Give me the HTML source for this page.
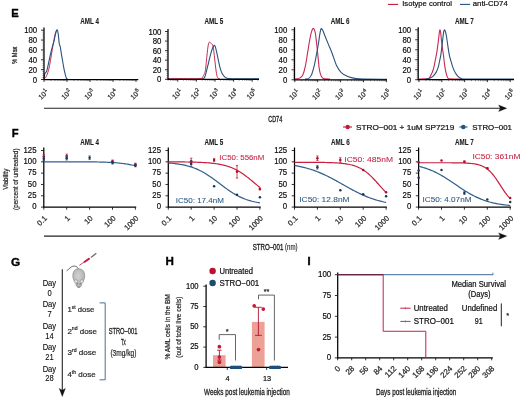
<!DOCTYPE html>
<html><head><meta charset="utf-8"><style>
html,body{margin:0;padding:0;background:#fff;}
svg{display:block;will-change:transform;}
text{font-family:"Liberation Sans", sans-serif;}
</style></head><body>
<svg width="520" height="397" viewBox="0 0 520 397" shape-rendering="geometricPrecision">
<rect width="520" height="397" fill="#fff"/>
<text x="11.3" y="16.7" font-size="11.2" font-weight="700" fill="#000" stroke="#000" stroke-width="0.35">E</text>
<text x="11.8" y="136.9" font-size="11.2" font-weight="700" fill="#000" stroke="#000" stroke-width="0.35">F</text>
<text x="11.1" y="265.6" font-size="11.8" font-weight="700" fill="#000" stroke="#000" stroke-width="0.35">G</text>
<text x="165.6" y="265.1" font-size="11.6" font-weight="700" fill="#000" stroke="#000" stroke-width="0.35">H</text>
<text x="307.5" y="265.2" font-size="11" font-weight="700" fill="#000" stroke="#000" stroke-width="0.5">I</text>
<line x1="388" y1="4.4" x2="398.2" y2="4.4" stroke="#c4183c" stroke-width="1.1"/>
<text x="402.2" y="6.4" font-size="8" textLength="49.8" lengthAdjust="spacingAndGlyphs" stroke="#2a2a2a" stroke-width="0.22">Isotype control</text>
<line x1="460" y1="4.4" x2="470" y2="4.4" stroke="#24527f" stroke-width="1.1"/>
<text x="472.8" y="6.4" font-size="8" textLength="34.9" lengthAdjust="spacingAndGlyphs" stroke="#2a2a2a" stroke-width="0.22">anti-CD74</text>
<text transform="translate(17.3 55.2) rotate(-90)" font-size="7.4" text-anchor="middle" fill="#222" textLength="17" lengthAdjust="spacingAndGlyphs" stroke="#222" stroke-width="0.25">% Max</text>
<g transform="translate(0 -0.6)">
<path d="M44 79.3 C44.33 79 45.25 78.88 46 77.5 C46.75 76.12 47.75 73.75 48.5 71 C49.25 68.25 49.87 64.5 50.5 61 C51.13 57.5 51.72 53.5 52.3 50 C52.88 46.5 53.47 42.75 54 40 C54.53 37.25 55.03 35 55.5 33.5 C55.97 32 56.58 31.42 56.8 31" stroke="#c62a55" stroke-width="1" fill="none" stroke-linejoin="round"/>
<path d="M44 79.3 C44.13 78.5 44.53 75.5 44.8 74.5 C45.07 73.5 45.27 73.8 45.6 73.3 C45.93 72.8 46.35 72.88 46.8 71.5 C47.25 70.12 47.77 67.42 48.3 65 C48.83 62.58 49.47 59.42 50 57 C50.53 54.58 51.05 52.3 51.5 50.5 C51.95 48.7 52.28 47.62 52.7 46.2 C53.12 44.78 53.57 43.78 54 42 C54.43 40.22 54.87 37.37 55.3 35.5 C55.73 33.63 56.22 31.52 56.6 30.8 C56.98 30.08 57.3 30.33 57.6 31.2 C57.9 32.07 58.12 33.77 58.4 36 C58.68 38.23 59 42.77 59.3 44.6 C59.6 46.43 59.87 45.43 60.2 47 C60.53 48.57 60.92 51.67 61.3 54 C61.68 56.33 62.05 58.42 62.5 61 C62.95 63.58 63.5 67 64 69.5 C64.5 72 65.07 74.37 65.5 76 C65.93 77.63 66.18 78.7 66.6 79.3 C67.02 79.9 67.77 79.55 68 79.6" stroke="#2a527c" stroke-width="1.1" fill="none" stroke-linejoin="round"/>
<path d="M168 79.2 C173.33 79.2 194.37 79.27 200 79.2 C205.63 79.14 201.13 79.49 201.8 78.81 C202.47 78.13 203.38 76.55 204 75.12 C204.62 73.69 204.95 73.99 205.5 70.26 C206.05 66.53 206.8 57.06 207.3 52.76 C207.8 48.47 208.13 46.15 208.5 44.5 C208.87 42.85 209.08 42.93 209.5 42.85 C209.92 42.77 210.5 43.61 211 44.02 C211.5 44.42 212.05 44.15 212.5 45.28 C212.95 46.41 213.28 47.95 213.7 50.82 C214.12 53.69 214.53 58.6 215 62.48 C215.47 66.37 216 71.43 216.5 74.15 C217 76.87 217.42 77.97 218 78.81 C218.58 79.66 219.67 79.14 220 79.2" stroke="#c62a55" stroke-width="1" fill="none" stroke-linejoin="round"/>
<path d="M203 79.2 C203.3 78.93 204.2 78.88 204.8 77.55 C205.4 76.22 205.98 73.58 206.6 71.23 C207.22 68.88 207.8 66.28 208.5 63.46 C209.2 60.64 210.1 56.83 210.8 54.32 C211.5 51.81 212.12 49.78 212.7 48.39 C213.28 47 213.83 46.04 214.3 45.96 C214.77 45.88 215.05 46.51 215.5 47.9 C215.95 49.3 216.5 52.05 217 54.32 C217.5 56.59 218.03 59.31 218.5 61.51 C218.97 63.72 219.3 65.68 219.8 67.54 C220.3 69.4 220.92 71.3 221.5 72.69 C222.08 74.08 222.67 75.02 223.3 75.9 C223.93 76.77 224.62 77.44 225.3 77.94 C225.98 78.44 226.28 78.68 227.4 78.91 C228.52 79.14 226.73 79.24 232 79.3 C237.27 79.36 254.5 79.3 259 79.3" stroke="#2a527c" stroke-width="1.1" fill="none" stroke-linejoin="round"/>
<path d="M294.5 79.6 C294.92 79.58 296.08 79.68 297 79.5 C297.92 79.32 299.03 79.13 300 78.5 C300.97 77.87 301.92 77.62 302.8 75.7 C303.68 73.78 304.48 70.82 305.3 67 C306.12 63.18 306.92 57.47 307.7 52.8 C308.48 48.13 309.32 42.55 310 39 C310.68 35.45 311.2 33.17 311.8 31.5 C312.4 29.83 313.03 28.75 313.6 29 C314.17 29.25 314.68 30.4 315.2 33 C315.72 35.6 316.23 40.6 316.7 44.6 C317.17 48.6 317.58 52.93 318 57 C318.42 61.07 318.75 65.92 319.2 69 C319.65 72.08 320.15 73.92 320.7 75.5 C321.25 77.08 321.87 77.83 322.5 78.5 C323.13 79.17 323.25 79.3 324.5 79.5 C325.75 79.7 329.08 79.67 330 79.7" stroke="#c62a55" stroke-width="1.1" fill="none" stroke-linejoin="round"/>
<path d="M305 79.7 C305.58 79.62 307.42 79.9 308.5 79.2 C309.58 78.5 310.53 77.7 311.5 75.5 C312.47 73.3 313.47 69.42 314.3 66 C315.13 62.58 315.82 58.57 316.5 55 C317.18 51.43 317.85 47.93 318.4 44.6 C318.95 41.27 319.35 37.55 319.8 35 C320.25 32.45 320.6 29.97 321.1 29.3 C321.6 28.63 322.17 29.82 322.8 31 C323.43 32.18 324 34.15 324.9 36.4 C325.8 38.65 326.97 41.52 328.2 44.5 C329.43 47.48 330.93 50.75 332.3 54.3 C333.67 57.85 334.9 62.65 336.4 65.8 C337.9 68.95 339.4 71.3 341.3 73.2 C343.2 75.1 345.35 76.2 347.8 77.2 C350.25 78.2 353.13 78.78 356 79.2 C358.87 79.62 359.83 79.6 365 79.7 C370.17 79.8 383.33 79.78 387 79.8" stroke="#2a527c" stroke-width="1.1" fill="none" stroke-linejoin="round"/>
<path d="M418.5 79.6 C419.42 79.58 422.33 79.57 424 79.5 C425.67 79.43 427.5 79.53 428.5 79.2 C429.5 78.87 429.62 78.07 430 77.5 C430.38 76.93 430.47 76.47 430.8 75.8 C431.13 75.13 431.62 74.37 432 73.5 C432.38 72.63 432.72 71.85 433.1 70.6 C433.48 69.35 433.95 67.57 434.3 66 C434.65 64.43 434.78 63.37 435.2 61.2 C435.62 59.03 436.28 56.2 436.8 53 C437.32 49.8 437.82 45.67 438.3 42 C438.78 38.33 439.32 32.5 439.7 31 C440.08 29.5 440.3 31.33 440.6 33 C440.9 34.67 441.17 38.17 441.5 41 C441.83 43.83 442.27 47.5 442.6 50 C442.93 52.5 443.17 53.43 443.5 56 C443.83 58.57 444.17 62.45 444.6 65.4 C445.03 68.35 445.58 71.53 446.1 73.7 C446.62 75.87 447.18 77.45 447.7 78.4 C448.22 79.35 447.98 79.2 449.2 79.4 C450.42 79.6 452.87 79.57 455 79.6 C457.13 79.63 460.83 79.6 462 79.6" stroke="#c62a55" stroke-width="1.1" fill="none" stroke-linejoin="round"/>
<path d="M426 79.6 C426.42 79.53 427.4 79.58 428.5 79.2 C429.6 78.82 431.32 78.38 432.6 77.3 C433.88 76.22 435.25 74.33 436.2 72.7 C437.15 71.07 437.68 69.58 438.3 67.5 C438.92 65.42 439.47 62.28 439.9 60.2 C440.33 58.12 440.47 58.03 440.9 55 C441.33 51.97 442.07 45.58 442.5 42 C442.93 38.42 443.2 35.4 443.5 33.5 C443.8 31.6 444 30.88 444.3 30.6 C444.6 30.32 444.97 30.9 445.3 31.8 C445.63 32.7 445.93 33.97 446.3 36 C446.67 38.03 447.02 40.83 447.5 44 C447.98 47.17 448.65 52.13 449.2 55 C449.75 57.87 450.1 58.78 450.8 61.2 C451.5 63.62 452.45 67.17 453.4 69.5 C454.35 71.83 455.47 73.72 456.5 75.2 C457.53 76.68 458.57 77.67 459.6 78.4 C460.63 79.13 460.97 79.38 462.7 79.6 C464.43 79.82 461.45 79.68 470 79.7 C478.55 79.72 506.67 79.7 514 79.7" stroke="#2a527c" stroke-width="1.1" fill="none" stroke-linejoin="round"/>
</g>
<line x1="44" y1="27.6" x2="44" y2="80" stroke="#000" stroke-width="1.25"/>
<line x1="43.5" y1="79.5" x2="138.3" y2="79.5" stroke="#000" stroke-width="1.25"/>
<line x1="41" y1="79.5" x2="44" y2="79.5" stroke="#1a1a1a" stroke-width="0.9"/>
<text x="37.2" y="82.6" font-size="8.42" text-anchor="end" textLength="4.34" lengthAdjust="spacingAndGlyphs" stroke="#2a2a2a" stroke-width="0.22">0</text>
<line x1="41" y1="69.64" x2="44" y2="69.64" stroke="#1a1a1a" stroke-width="0.9"/>
<text x="37.2" y="72.74" font-size="8.42" text-anchor="end" textLength="8.68" lengthAdjust="spacingAndGlyphs" stroke="#2a2a2a" stroke-width="0.22">20</text>
<line x1="41" y1="59.78" x2="44" y2="59.78" stroke="#1a1a1a" stroke-width="0.9"/>
<text x="37.2" y="62.88" font-size="8.42" text-anchor="end" textLength="8.68" lengthAdjust="spacingAndGlyphs" stroke="#2a2a2a" stroke-width="0.22">40</text>
<line x1="41" y1="49.92" x2="44" y2="49.92" stroke="#1a1a1a" stroke-width="0.9"/>
<text x="37.2" y="53.02" font-size="8.42" text-anchor="end" textLength="8.68" lengthAdjust="spacingAndGlyphs" stroke="#2a2a2a" stroke-width="0.22">60</text>
<line x1="41" y1="40.06" x2="44" y2="40.06" stroke="#1a1a1a" stroke-width="0.9"/>
<text x="37.2" y="43.16" font-size="8.42" text-anchor="end" textLength="8.68" lengthAdjust="spacingAndGlyphs" stroke="#2a2a2a" stroke-width="0.22">80</text>
<line x1="41" y1="30.2" x2="44" y2="30.2" stroke="#1a1a1a" stroke-width="0.9"/>
<text x="37.2" y="33.3" font-size="8.42" text-anchor="end" textLength="13.01" lengthAdjust="spacingAndGlyphs" stroke="#2a2a2a" stroke-width="0.22">100</text>
<line x1="42.4" y1="77.53" x2="44" y2="77.53" stroke="#1a1a1a" stroke-width="0.4"/>
<line x1="42.4" y1="75.56" x2="44" y2="75.56" stroke="#1a1a1a" stroke-width="0.4"/>
<line x1="42.4" y1="73.58" x2="44" y2="73.58" stroke="#1a1a1a" stroke-width="0.4"/>
<line x1="42.4" y1="71.61" x2="44" y2="71.61" stroke="#1a1a1a" stroke-width="0.4"/>
<line x1="42.4" y1="67.67" x2="44" y2="67.67" stroke="#1a1a1a" stroke-width="0.4"/>
<line x1="42.4" y1="65.7" x2="44" y2="65.7" stroke="#1a1a1a" stroke-width="0.4"/>
<line x1="42.4" y1="63.72" x2="44" y2="63.72" stroke="#1a1a1a" stroke-width="0.4"/>
<line x1="42.4" y1="61.75" x2="44" y2="61.75" stroke="#1a1a1a" stroke-width="0.4"/>
<line x1="42.4" y1="57.81" x2="44" y2="57.81" stroke="#1a1a1a" stroke-width="0.4"/>
<line x1="42.4" y1="55.84" x2="44" y2="55.84" stroke="#1a1a1a" stroke-width="0.4"/>
<line x1="42.4" y1="53.86" x2="44" y2="53.86" stroke="#1a1a1a" stroke-width="0.4"/>
<line x1="42.4" y1="51.89" x2="44" y2="51.89" stroke="#1a1a1a" stroke-width="0.4"/>
<line x1="42.4" y1="47.95" x2="44" y2="47.95" stroke="#1a1a1a" stroke-width="0.4"/>
<line x1="42.4" y1="45.98" x2="44" y2="45.98" stroke="#1a1a1a" stroke-width="0.4"/>
<line x1="42.4" y1="44" x2="44" y2="44" stroke="#1a1a1a" stroke-width="0.4"/>
<line x1="42.4" y1="42.03" x2="44" y2="42.03" stroke="#1a1a1a" stroke-width="0.4"/>
<line x1="42.4" y1="38.09" x2="44" y2="38.09" stroke="#1a1a1a" stroke-width="0.4"/>
<line x1="42.4" y1="36.12" x2="44" y2="36.12" stroke="#1a1a1a" stroke-width="0.4"/>
<line x1="42.4" y1="34.14" x2="44" y2="34.14" stroke="#1a1a1a" stroke-width="0.4"/>
<line x1="42.4" y1="32.17" x2="44" y2="32.17" stroke="#1a1a1a" stroke-width="0.4"/>
<line x1="44" y1="79.5" x2="44" y2="81.9" stroke="#1a1a1a" stroke-width="0.9"/>
<line x1="50.92" y1="79.5" x2="50.92" y2="81" stroke="#1a1a1a" stroke-width="0.45"/>
<line x1="54.97" y1="79.5" x2="54.97" y2="81" stroke="#1a1a1a" stroke-width="0.45"/>
<line x1="57.85" y1="79.5" x2="57.85" y2="81" stroke="#1a1a1a" stroke-width="0.45"/>
<line x1="60.08" y1="79.5" x2="60.08" y2="81" stroke="#1a1a1a" stroke-width="0.45"/>
<line x1="61.9" y1="79.5" x2="61.9" y2="81" stroke="#1a1a1a" stroke-width="0.45"/>
<line x1="63.44" y1="79.5" x2="63.44" y2="81" stroke="#1a1a1a" stroke-width="0.45"/>
<line x1="64.77" y1="79.5" x2="64.77" y2="81" stroke="#1a1a1a" stroke-width="0.45"/>
<line x1="65.95" y1="79.5" x2="65.95" y2="81" stroke="#1a1a1a" stroke-width="0.45"/>
<line x1="67" y1="79.5" x2="67" y2="81.9" stroke="#1a1a1a" stroke-width="0.9"/>
<line x1="73.92" y1="79.5" x2="73.92" y2="81" stroke="#1a1a1a" stroke-width="0.45"/>
<line x1="77.97" y1="79.5" x2="77.97" y2="81" stroke="#1a1a1a" stroke-width="0.45"/>
<line x1="80.85" y1="79.5" x2="80.85" y2="81" stroke="#1a1a1a" stroke-width="0.45"/>
<line x1="83.08" y1="79.5" x2="83.08" y2="81" stroke="#1a1a1a" stroke-width="0.45"/>
<line x1="84.9" y1="79.5" x2="84.9" y2="81" stroke="#1a1a1a" stroke-width="0.45"/>
<line x1="86.44" y1="79.5" x2="86.44" y2="81" stroke="#1a1a1a" stroke-width="0.45"/>
<line x1="87.77" y1="79.5" x2="87.77" y2="81" stroke="#1a1a1a" stroke-width="0.45"/>
<line x1="88.95" y1="79.5" x2="88.95" y2="81" stroke="#1a1a1a" stroke-width="0.45"/>
<line x1="90" y1="79.5" x2="90" y2="81.9" stroke="#1a1a1a" stroke-width="0.9"/>
<line x1="96.92" y1="79.5" x2="96.92" y2="81" stroke="#1a1a1a" stroke-width="0.45"/>
<line x1="100.97" y1="79.5" x2="100.97" y2="81" stroke="#1a1a1a" stroke-width="0.45"/>
<line x1="103.85" y1="79.5" x2="103.85" y2="81" stroke="#1a1a1a" stroke-width="0.45"/>
<line x1="106.08" y1="79.5" x2="106.08" y2="81" stroke="#1a1a1a" stroke-width="0.45"/>
<line x1="107.9" y1="79.5" x2="107.9" y2="81" stroke="#1a1a1a" stroke-width="0.45"/>
<line x1="109.44" y1="79.5" x2="109.44" y2="81" stroke="#1a1a1a" stroke-width="0.45"/>
<line x1="110.77" y1="79.5" x2="110.77" y2="81" stroke="#1a1a1a" stroke-width="0.45"/>
<line x1="111.95" y1="79.5" x2="111.95" y2="81" stroke="#1a1a1a" stroke-width="0.45"/>
<line x1="113" y1="79.5" x2="113" y2="81.9" stroke="#1a1a1a" stroke-width="0.9"/>
<line x1="119.92" y1="79.5" x2="119.92" y2="81" stroke="#1a1a1a" stroke-width="0.45"/>
<line x1="123.97" y1="79.5" x2="123.97" y2="81" stroke="#1a1a1a" stroke-width="0.45"/>
<line x1="126.85" y1="79.5" x2="126.85" y2="81" stroke="#1a1a1a" stroke-width="0.45"/>
<line x1="129.08" y1="79.5" x2="129.08" y2="81" stroke="#1a1a1a" stroke-width="0.45"/>
<line x1="130.9" y1="79.5" x2="130.9" y2="81" stroke="#1a1a1a" stroke-width="0.45"/>
<line x1="132.44" y1="79.5" x2="132.44" y2="81" stroke="#1a1a1a" stroke-width="0.45"/>
<line x1="133.77" y1="79.5" x2="133.77" y2="81" stroke="#1a1a1a" stroke-width="0.45"/>
<line x1="134.95" y1="79.5" x2="134.95" y2="81" stroke="#1a1a1a" stroke-width="0.45"/>
<line x1="136" y1="79.5" x2="136" y2="81.9" stroke="#1a1a1a" stroke-width="0.9"/>
<g transform="translate(49 92.3) rotate(-45)"><text x="0" y="0" font-size="7" text-anchor="end" fill="#2a2a2a" stroke="#2a2a2a" stroke-width="0.22">10<tspan font-size="5.18" dy="-2.94" dx="0.2">1</tspan></text></g>
<g transform="translate(72 92.3) rotate(-45)"><text x="0" y="0" font-size="7" text-anchor="end" fill="#2a2a2a" stroke="#2a2a2a" stroke-width="0.22">10<tspan font-size="5.18" dy="-2.94" dx="0.2">2</tspan></text></g>
<g transform="translate(95 92.3) rotate(-45)"><text x="0" y="0" font-size="7" text-anchor="end" fill="#2a2a2a" stroke="#2a2a2a" stroke-width="0.22">10<tspan font-size="5.18" dy="-2.94" dx="0.2">3</tspan></text></g>
<g transform="translate(118 92.3) rotate(-45)"><text x="0" y="0" font-size="7" text-anchor="end" fill="#2a2a2a" stroke="#2a2a2a" stroke-width="0.22">10<tspan font-size="5.18" dy="-2.94" dx="0.2">4</tspan></text></g>
<g transform="translate(141 92.3) rotate(-45)"><text x="0" y="0" font-size="7" text-anchor="end" fill="#2a2a2a" stroke="#2a2a2a" stroke-width="0.22">10<tspan font-size="5.18" dy="-2.94" dx="0.2">5</tspan></text></g>
<text x="80.2" y="24.1" font-size="8.6" font-weight="700" fill="#1a1a1a" textLength="18.7" lengthAdjust="spacingAndGlyphs" stroke="#1a1a1a" stroke-width="0.12">AML 4</text>
<line x1="168" y1="28.9" x2="168" y2="79.8" stroke="#000" stroke-width="1.25"/>
<line x1="167.5" y1="79.3" x2="259" y2="79.3" stroke="#000" stroke-width="1.25"/>
<line x1="165" y1="79.3" x2="168" y2="79.3" stroke="#1a1a1a" stroke-width="0.9"/>
<text x="161.4" y="82.4" font-size="8.42" text-anchor="end" textLength="4.34" lengthAdjust="spacingAndGlyphs" stroke="#2a2a2a" stroke-width="0.22">0</text>
<line x1="165" y1="69.74" x2="168" y2="69.74" stroke="#1a1a1a" stroke-width="0.9"/>
<text x="161.4" y="72.84" font-size="8.42" text-anchor="end" textLength="8.68" lengthAdjust="spacingAndGlyphs" stroke="#2a2a2a" stroke-width="0.22">20</text>
<line x1="165" y1="60.18" x2="168" y2="60.18" stroke="#1a1a1a" stroke-width="0.9"/>
<text x="161.4" y="63.28" font-size="8.42" text-anchor="end" textLength="8.68" lengthAdjust="spacingAndGlyphs" stroke="#2a2a2a" stroke-width="0.22">40</text>
<line x1="165" y1="50.62" x2="168" y2="50.62" stroke="#1a1a1a" stroke-width="0.9"/>
<text x="161.4" y="53.72" font-size="8.42" text-anchor="end" textLength="8.68" lengthAdjust="spacingAndGlyphs" stroke="#2a2a2a" stroke-width="0.22">60</text>
<line x1="165" y1="41.06" x2="168" y2="41.06" stroke="#1a1a1a" stroke-width="0.9"/>
<text x="161.4" y="44.16" font-size="8.42" text-anchor="end" textLength="8.68" lengthAdjust="spacingAndGlyphs" stroke="#2a2a2a" stroke-width="0.22">80</text>
<line x1="165" y1="31.5" x2="168" y2="31.5" stroke="#1a1a1a" stroke-width="0.9"/>
<text x="161.4" y="34.6" font-size="8.42" text-anchor="end" textLength="13.01" lengthAdjust="spacingAndGlyphs" stroke="#2a2a2a" stroke-width="0.22">100</text>
<line x1="166.4" y1="77.39" x2="168" y2="77.39" stroke="#1a1a1a" stroke-width="0.4"/>
<line x1="166.4" y1="75.48" x2="168" y2="75.48" stroke="#1a1a1a" stroke-width="0.4"/>
<line x1="166.4" y1="73.56" x2="168" y2="73.56" stroke="#1a1a1a" stroke-width="0.4"/>
<line x1="166.4" y1="71.65" x2="168" y2="71.65" stroke="#1a1a1a" stroke-width="0.4"/>
<line x1="166.4" y1="67.83" x2="168" y2="67.83" stroke="#1a1a1a" stroke-width="0.4"/>
<line x1="166.4" y1="65.92" x2="168" y2="65.92" stroke="#1a1a1a" stroke-width="0.4"/>
<line x1="166.4" y1="64" x2="168" y2="64" stroke="#1a1a1a" stroke-width="0.4"/>
<line x1="166.4" y1="62.09" x2="168" y2="62.09" stroke="#1a1a1a" stroke-width="0.4"/>
<line x1="166.4" y1="58.27" x2="168" y2="58.27" stroke="#1a1a1a" stroke-width="0.4"/>
<line x1="166.4" y1="56.36" x2="168" y2="56.36" stroke="#1a1a1a" stroke-width="0.4"/>
<line x1="166.4" y1="54.44" x2="168" y2="54.44" stroke="#1a1a1a" stroke-width="0.4"/>
<line x1="166.4" y1="52.53" x2="168" y2="52.53" stroke="#1a1a1a" stroke-width="0.4"/>
<line x1="166.4" y1="48.71" x2="168" y2="48.71" stroke="#1a1a1a" stroke-width="0.4"/>
<line x1="166.4" y1="46.8" x2="168" y2="46.8" stroke="#1a1a1a" stroke-width="0.4"/>
<line x1="166.4" y1="44.88" x2="168" y2="44.88" stroke="#1a1a1a" stroke-width="0.4"/>
<line x1="166.4" y1="42.97" x2="168" y2="42.97" stroke="#1a1a1a" stroke-width="0.4"/>
<line x1="166.4" y1="39.15" x2="168" y2="39.15" stroke="#1a1a1a" stroke-width="0.4"/>
<line x1="166.4" y1="37.24" x2="168" y2="37.24" stroke="#1a1a1a" stroke-width="0.4"/>
<line x1="166.4" y1="35.32" x2="168" y2="35.32" stroke="#1a1a1a" stroke-width="0.4"/>
<line x1="166.4" y1="33.41" x2="168" y2="33.41" stroke="#1a1a1a" stroke-width="0.4"/>
<line x1="177.8" y1="79.3" x2="177.8" y2="81.7" stroke="#1a1a1a" stroke-width="0.9"/>
<line x1="183.4" y1="79.3" x2="183.4" y2="80.8" stroke="#1a1a1a" stroke-width="0.45"/>
<line x1="186.67" y1="79.3" x2="186.67" y2="80.8" stroke="#1a1a1a" stroke-width="0.45"/>
<line x1="189" y1="79.3" x2="189" y2="80.8" stroke="#1a1a1a" stroke-width="0.45"/>
<line x1="190.8" y1="79.3" x2="190.8" y2="80.8" stroke="#1a1a1a" stroke-width="0.45"/>
<line x1="192.27" y1="79.3" x2="192.27" y2="80.8" stroke="#1a1a1a" stroke-width="0.45"/>
<line x1="193.52" y1="79.3" x2="193.52" y2="80.8" stroke="#1a1a1a" stroke-width="0.45"/>
<line x1="194.6" y1="79.3" x2="194.6" y2="80.8" stroke="#1a1a1a" stroke-width="0.45"/>
<line x1="195.55" y1="79.3" x2="195.55" y2="80.8" stroke="#1a1a1a" stroke-width="0.45"/>
<line x1="196.4" y1="79.3" x2="196.4" y2="81.7" stroke="#1a1a1a" stroke-width="0.9"/>
<line x1="202" y1="79.3" x2="202" y2="80.8" stroke="#1a1a1a" stroke-width="0.45"/>
<line x1="205.27" y1="79.3" x2="205.27" y2="80.8" stroke="#1a1a1a" stroke-width="0.45"/>
<line x1="207.6" y1="79.3" x2="207.6" y2="80.8" stroke="#1a1a1a" stroke-width="0.45"/>
<line x1="209.4" y1="79.3" x2="209.4" y2="80.8" stroke="#1a1a1a" stroke-width="0.45"/>
<line x1="210.87" y1="79.3" x2="210.87" y2="80.8" stroke="#1a1a1a" stroke-width="0.45"/>
<line x1="212.12" y1="79.3" x2="212.12" y2="80.8" stroke="#1a1a1a" stroke-width="0.45"/>
<line x1="213.2" y1="79.3" x2="213.2" y2="80.8" stroke="#1a1a1a" stroke-width="0.45"/>
<line x1="214.15" y1="79.3" x2="214.15" y2="80.8" stroke="#1a1a1a" stroke-width="0.45"/>
<line x1="215" y1="79.3" x2="215" y2="81.7" stroke="#1a1a1a" stroke-width="0.9"/>
<line x1="220.6" y1="79.3" x2="220.6" y2="80.8" stroke="#1a1a1a" stroke-width="0.45"/>
<line x1="223.87" y1="79.3" x2="223.87" y2="80.8" stroke="#1a1a1a" stroke-width="0.45"/>
<line x1="226.2" y1="79.3" x2="226.2" y2="80.8" stroke="#1a1a1a" stroke-width="0.45"/>
<line x1="228" y1="79.3" x2="228" y2="80.8" stroke="#1a1a1a" stroke-width="0.45"/>
<line x1="229.47" y1="79.3" x2="229.47" y2="80.8" stroke="#1a1a1a" stroke-width="0.45"/>
<line x1="230.72" y1="79.3" x2="230.72" y2="80.8" stroke="#1a1a1a" stroke-width="0.45"/>
<line x1="231.8" y1="79.3" x2="231.8" y2="80.8" stroke="#1a1a1a" stroke-width="0.45"/>
<line x1="232.75" y1="79.3" x2="232.75" y2="80.8" stroke="#1a1a1a" stroke-width="0.45"/>
<line x1="233.6" y1="79.3" x2="233.6" y2="81.7" stroke="#1a1a1a" stroke-width="0.9"/>
<line x1="239.2" y1="79.3" x2="239.2" y2="80.8" stroke="#1a1a1a" stroke-width="0.45"/>
<line x1="242.47" y1="79.3" x2="242.47" y2="80.8" stroke="#1a1a1a" stroke-width="0.45"/>
<line x1="244.8" y1="79.3" x2="244.8" y2="80.8" stroke="#1a1a1a" stroke-width="0.45"/>
<line x1="246.6" y1="79.3" x2="246.6" y2="80.8" stroke="#1a1a1a" stroke-width="0.45"/>
<line x1="248.07" y1="79.3" x2="248.07" y2="80.8" stroke="#1a1a1a" stroke-width="0.45"/>
<line x1="249.32" y1="79.3" x2="249.32" y2="80.8" stroke="#1a1a1a" stroke-width="0.45"/>
<line x1="250.4" y1="79.3" x2="250.4" y2="80.8" stroke="#1a1a1a" stroke-width="0.45"/>
<line x1="251.35" y1="79.3" x2="251.35" y2="80.8" stroke="#1a1a1a" stroke-width="0.45"/>
<line x1="252.2" y1="79.3" x2="252.2" y2="81.7" stroke="#1a1a1a" stroke-width="0.9"/>
<line x1="257.8" y1="79.3" x2="257.8" y2="80.8" stroke="#1a1a1a" stroke-width="0.45"/>
<line x1="168.07" y1="79.3" x2="168.07" y2="80.8" stroke="#1a1a1a" stroke-width="0.45"/>
<line x1="170.4" y1="79.3" x2="170.4" y2="80.8" stroke="#1a1a1a" stroke-width="0.45"/>
<line x1="172.2" y1="79.3" x2="172.2" y2="80.8" stroke="#1a1a1a" stroke-width="0.45"/>
<line x1="173.67" y1="79.3" x2="173.67" y2="80.8" stroke="#1a1a1a" stroke-width="0.45"/>
<line x1="174.92" y1="79.3" x2="174.92" y2="80.8" stroke="#1a1a1a" stroke-width="0.45"/>
<line x1="176" y1="79.3" x2="176" y2="80.8" stroke="#1a1a1a" stroke-width="0.45"/>
<line x1="176.95" y1="79.3" x2="176.95" y2="80.8" stroke="#1a1a1a" stroke-width="0.45"/>
<g transform="translate(182.8 92.1) rotate(-45)"><text x="0" y="0" font-size="7" text-anchor="end" fill="#2a2a2a" stroke="#2a2a2a" stroke-width="0.22">10<tspan font-size="5.18" dy="-2.94" dx="0.2">1</tspan></text></g>
<g transform="translate(201.4 92.1) rotate(-45)"><text x="0" y="0" font-size="7" text-anchor="end" fill="#2a2a2a" stroke="#2a2a2a" stroke-width="0.22">10<tspan font-size="5.18" dy="-2.94" dx="0.2">2</tspan></text></g>
<g transform="translate(220 92.1) rotate(-45)"><text x="0" y="0" font-size="7" text-anchor="end" fill="#2a2a2a" stroke="#2a2a2a" stroke-width="0.22">10<tspan font-size="5.18" dy="-2.94" dx="0.2">3</tspan></text></g>
<g transform="translate(238.6 92.1) rotate(-45)"><text x="0" y="0" font-size="7" text-anchor="end" fill="#2a2a2a" stroke="#2a2a2a" stroke-width="0.22">10<tspan font-size="5.18" dy="-2.94" dx="0.2">4</tspan></text></g>
<g transform="translate(257.2 92.1) rotate(-45)"><text x="0" y="0" font-size="7" text-anchor="end" fill="#2a2a2a" stroke="#2a2a2a" stroke-width="0.22">10<tspan font-size="5.18" dy="-2.94" dx="0.2">5</tspan></text></g>
<text x="204.6" y="24.1" font-size="8.6" font-weight="700" fill="#1a1a1a" textLength="18.7" lengthAdjust="spacingAndGlyphs" stroke="#1a1a1a" stroke-width="0.12">AML 5</text>
<line x1="294.5" y1="27.2" x2="294.5" y2="80.3" stroke="#000" stroke-width="1.25"/>
<line x1="294" y1="79.8" x2="387" y2="79.8" stroke="#000" stroke-width="1.25"/>
<line x1="291.5" y1="79.8" x2="294.5" y2="79.8" stroke="#1a1a1a" stroke-width="0.9"/>
<text x="287.3" y="82.9" font-size="8.42" text-anchor="end" textLength="4.34" lengthAdjust="spacingAndGlyphs" stroke="#2a2a2a" stroke-width="0.22">0</text>
<line x1="291.5" y1="69.8" x2="294.5" y2="69.8" stroke="#1a1a1a" stroke-width="0.9"/>
<text x="287.3" y="72.9" font-size="8.42" text-anchor="end" textLength="8.68" lengthAdjust="spacingAndGlyphs" stroke="#2a2a2a" stroke-width="0.22">20</text>
<line x1="291.5" y1="59.8" x2="294.5" y2="59.8" stroke="#1a1a1a" stroke-width="0.9"/>
<text x="287.3" y="62.9" font-size="8.42" text-anchor="end" textLength="8.68" lengthAdjust="spacingAndGlyphs" stroke="#2a2a2a" stroke-width="0.22">40</text>
<line x1="291.5" y1="49.8" x2="294.5" y2="49.8" stroke="#1a1a1a" stroke-width="0.9"/>
<text x="287.3" y="52.9" font-size="8.42" text-anchor="end" textLength="8.68" lengthAdjust="spacingAndGlyphs" stroke="#2a2a2a" stroke-width="0.22">60</text>
<line x1="291.5" y1="39.8" x2="294.5" y2="39.8" stroke="#1a1a1a" stroke-width="0.9"/>
<text x="287.3" y="42.9" font-size="8.42" text-anchor="end" textLength="8.68" lengthAdjust="spacingAndGlyphs" stroke="#2a2a2a" stroke-width="0.22">80</text>
<line x1="291.5" y1="29.8" x2="294.5" y2="29.8" stroke="#1a1a1a" stroke-width="0.9"/>
<text x="287.3" y="32.9" font-size="8.42" text-anchor="end" textLength="13.01" lengthAdjust="spacingAndGlyphs" stroke="#2a2a2a" stroke-width="0.22">100</text>
<line x1="292.9" y1="77.8" x2="294.5" y2="77.8" stroke="#1a1a1a" stroke-width="0.4"/>
<line x1="292.9" y1="75.8" x2="294.5" y2="75.8" stroke="#1a1a1a" stroke-width="0.4"/>
<line x1="292.9" y1="73.8" x2="294.5" y2="73.8" stroke="#1a1a1a" stroke-width="0.4"/>
<line x1="292.9" y1="71.8" x2="294.5" y2="71.8" stroke="#1a1a1a" stroke-width="0.4"/>
<line x1="292.9" y1="67.8" x2="294.5" y2="67.8" stroke="#1a1a1a" stroke-width="0.4"/>
<line x1="292.9" y1="65.8" x2="294.5" y2="65.8" stroke="#1a1a1a" stroke-width="0.4"/>
<line x1="292.9" y1="63.8" x2="294.5" y2="63.8" stroke="#1a1a1a" stroke-width="0.4"/>
<line x1="292.9" y1="61.8" x2="294.5" y2="61.8" stroke="#1a1a1a" stroke-width="0.4"/>
<line x1="292.9" y1="57.8" x2="294.5" y2="57.8" stroke="#1a1a1a" stroke-width="0.4"/>
<line x1="292.9" y1="55.8" x2="294.5" y2="55.8" stroke="#1a1a1a" stroke-width="0.4"/>
<line x1="292.9" y1="53.8" x2="294.5" y2="53.8" stroke="#1a1a1a" stroke-width="0.4"/>
<line x1="292.9" y1="51.8" x2="294.5" y2="51.8" stroke="#1a1a1a" stroke-width="0.4"/>
<line x1="292.9" y1="47.8" x2="294.5" y2="47.8" stroke="#1a1a1a" stroke-width="0.4"/>
<line x1="292.9" y1="45.8" x2="294.5" y2="45.8" stroke="#1a1a1a" stroke-width="0.4"/>
<line x1="292.9" y1="43.8" x2="294.5" y2="43.8" stroke="#1a1a1a" stroke-width="0.4"/>
<line x1="292.9" y1="41.8" x2="294.5" y2="41.8" stroke="#1a1a1a" stroke-width="0.4"/>
<line x1="292.9" y1="37.8" x2="294.5" y2="37.8" stroke="#1a1a1a" stroke-width="0.4"/>
<line x1="292.9" y1="35.8" x2="294.5" y2="35.8" stroke="#1a1a1a" stroke-width="0.4"/>
<line x1="292.9" y1="33.8" x2="294.5" y2="33.8" stroke="#1a1a1a" stroke-width="0.4"/>
<line x1="292.9" y1="31.8" x2="294.5" y2="31.8" stroke="#1a1a1a" stroke-width="0.4"/>
<line x1="294.8" y1="79.8" x2="294.8" y2="82.2" stroke="#1a1a1a" stroke-width="0.9"/>
<line x1="301.69" y1="79.8" x2="301.69" y2="81.3" stroke="#1a1a1a" stroke-width="0.45"/>
<line x1="305.73" y1="79.8" x2="305.73" y2="81.3" stroke="#1a1a1a" stroke-width="0.45"/>
<line x1="308.59" y1="79.8" x2="308.59" y2="81.3" stroke="#1a1a1a" stroke-width="0.45"/>
<line x1="310.81" y1="79.8" x2="310.81" y2="81.3" stroke="#1a1a1a" stroke-width="0.45"/>
<line x1="312.62" y1="79.8" x2="312.62" y2="81.3" stroke="#1a1a1a" stroke-width="0.45"/>
<line x1="314.15" y1="79.8" x2="314.15" y2="81.3" stroke="#1a1a1a" stroke-width="0.45"/>
<line x1="315.48" y1="79.8" x2="315.48" y2="81.3" stroke="#1a1a1a" stroke-width="0.45"/>
<line x1="316.65" y1="79.8" x2="316.65" y2="81.3" stroke="#1a1a1a" stroke-width="0.45"/>
<line x1="317.7" y1="79.8" x2="317.7" y2="82.2" stroke="#1a1a1a" stroke-width="0.9"/>
<line x1="324.59" y1="79.8" x2="324.59" y2="81.3" stroke="#1a1a1a" stroke-width="0.45"/>
<line x1="328.63" y1="79.8" x2="328.63" y2="81.3" stroke="#1a1a1a" stroke-width="0.45"/>
<line x1="331.49" y1="79.8" x2="331.49" y2="81.3" stroke="#1a1a1a" stroke-width="0.45"/>
<line x1="333.71" y1="79.8" x2="333.71" y2="81.3" stroke="#1a1a1a" stroke-width="0.45"/>
<line x1="335.52" y1="79.8" x2="335.52" y2="81.3" stroke="#1a1a1a" stroke-width="0.45"/>
<line x1="337.05" y1="79.8" x2="337.05" y2="81.3" stroke="#1a1a1a" stroke-width="0.45"/>
<line x1="338.38" y1="79.8" x2="338.38" y2="81.3" stroke="#1a1a1a" stroke-width="0.45"/>
<line x1="339.55" y1="79.8" x2="339.55" y2="81.3" stroke="#1a1a1a" stroke-width="0.45"/>
<line x1="340.6" y1="79.8" x2="340.6" y2="82.2" stroke="#1a1a1a" stroke-width="0.9"/>
<line x1="347.49" y1="79.8" x2="347.49" y2="81.3" stroke="#1a1a1a" stroke-width="0.45"/>
<line x1="351.53" y1="79.8" x2="351.53" y2="81.3" stroke="#1a1a1a" stroke-width="0.45"/>
<line x1="354.39" y1="79.8" x2="354.39" y2="81.3" stroke="#1a1a1a" stroke-width="0.45"/>
<line x1="356.61" y1="79.8" x2="356.61" y2="81.3" stroke="#1a1a1a" stroke-width="0.45"/>
<line x1="358.42" y1="79.8" x2="358.42" y2="81.3" stroke="#1a1a1a" stroke-width="0.45"/>
<line x1="359.95" y1="79.8" x2="359.95" y2="81.3" stroke="#1a1a1a" stroke-width="0.45"/>
<line x1="361.28" y1="79.8" x2="361.28" y2="81.3" stroke="#1a1a1a" stroke-width="0.45"/>
<line x1="362.45" y1="79.8" x2="362.45" y2="81.3" stroke="#1a1a1a" stroke-width="0.45"/>
<line x1="363.5" y1="79.8" x2="363.5" y2="82.2" stroke="#1a1a1a" stroke-width="0.9"/>
<line x1="370.39" y1="79.8" x2="370.39" y2="81.3" stroke="#1a1a1a" stroke-width="0.45"/>
<line x1="374.43" y1="79.8" x2="374.43" y2="81.3" stroke="#1a1a1a" stroke-width="0.45"/>
<line x1="377.29" y1="79.8" x2="377.29" y2="81.3" stroke="#1a1a1a" stroke-width="0.45"/>
<line x1="379.51" y1="79.8" x2="379.51" y2="81.3" stroke="#1a1a1a" stroke-width="0.45"/>
<line x1="381.32" y1="79.8" x2="381.32" y2="81.3" stroke="#1a1a1a" stroke-width="0.45"/>
<line x1="382.85" y1="79.8" x2="382.85" y2="81.3" stroke="#1a1a1a" stroke-width="0.45"/>
<line x1="384.18" y1="79.8" x2="384.18" y2="81.3" stroke="#1a1a1a" stroke-width="0.45"/>
<line x1="385.35" y1="79.8" x2="385.35" y2="81.3" stroke="#1a1a1a" stroke-width="0.45"/>
<line x1="386.4" y1="79.8" x2="386.4" y2="82.2" stroke="#1a1a1a" stroke-width="0.9"/>
<g transform="translate(299.8 92.6) rotate(-45)"><text x="0" y="0" font-size="7" text-anchor="end" fill="#2a2a2a" stroke="#2a2a2a" stroke-width="0.22">10<tspan font-size="5.18" dy="-2.94" dx="0.2">1</tspan></text></g>
<g transform="translate(322.7 92.6) rotate(-45)"><text x="0" y="0" font-size="7" text-anchor="end" fill="#2a2a2a" stroke="#2a2a2a" stroke-width="0.22">10<tspan font-size="5.18" dy="-2.94" dx="0.2">2</tspan></text></g>
<g transform="translate(345.6 92.6) rotate(-45)"><text x="0" y="0" font-size="7" text-anchor="end" fill="#2a2a2a" stroke="#2a2a2a" stroke-width="0.22">10<tspan font-size="5.18" dy="-2.94" dx="0.2">3</tspan></text></g>
<g transform="translate(368.5 92.6) rotate(-45)"><text x="0" y="0" font-size="7" text-anchor="end" fill="#2a2a2a" stroke="#2a2a2a" stroke-width="0.22">10<tspan font-size="5.18" dy="-2.94" dx="0.2">4</tspan></text></g>
<g transform="translate(391.4 92.6) rotate(-45)"><text x="0" y="0" font-size="7" text-anchor="end" fill="#2a2a2a" stroke="#2a2a2a" stroke-width="0.22">10<tspan font-size="5.18" dy="-2.94" dx="0.2">5</tspan></text></g>
<text x="330.8" y="24.1" font-size="8.6" font-weight="700" fill="#1a1a1a" textLength="18.7" lengthAdjust="spacingAndGlyphs" stroke="#1a1a1a" stroke-width="0.12">AML 6</text>
<line x1="418.2" y1="27.2" x2="418.2" y2="80.2" stroke="#000" stroke-width="1.25"/>
<line x1="417.7" y1="79.7" x2="514" y2="79.7" stroke="#000" stroke-width="1.25"/>
<line x1="415.2" y1="79.7" x2="418.2" y2="79.7" stroke="#1a1a1a" stroke-width="0.9"/>
<text x="411.2" y="82.8" font-size="8.42" text-anchor="end" textLength="4.34" lengthAdjust="spacingAndGlyphs" stroke="#2a2a2a" stroke-width="0.22">0</text>
<line x1="415.2" y1="69.72" x2="418.2" y2="69.72" stroke="#1a1a1a" stroke-width="0.9"/>
<text x="411.2" y="72.82" font-size="8.42" text-anchor="end" textLength="8.68" lengthAdjust="spacingAndGlyphs" stroke="#2a2a2a" stroke-width="0.22">20</text>
<line x1="415.2" y1="59.74" x2="418.2" y2="59.74" stroke="#1a1a1a" stroke-width="0.9"/>
<text x="411.2" y="62.84" font-size="8.42" text-anchor="end" textLength="8.68" lengthAdjust="spacingAndGlyphs" stroke="#2a2a2a" stroke-width="0.22">40</text>
<line x1="415.2" y1="49.76" x2="418.2" y2="49.76" stroke="#1a1a1a" stroke-width="0.9"/>
<text x="411.2" y="52.86" font-size="8.42" text-anchor="end" textLength="8.68" lengthAdjust="spacingAndGlyphs" stroke="#2a2a2a" stroke-width="0.22">60</text>
<line x1="415.2" y1="39.78" x2="418.2" y2="39.78" stroke="#1a1a1a" stroke-width="0.9"/>
<text x="411.2" y="42.88" font-size="8.42" text-anchor="end" textLength="8.68" lengthAdjust="spacingAndGlyphs" stroke="#2a2a2a" stroke-width="0.22">80</text>
<line x1="415.2" y1="29.8" x2="418.2" y2="29.8" stroke="#1a1a1a" stroke-width="0.9"/>
<text x="411.2" y="32.9" font-size="8.42" text-anchor="end" textLength="13.01" lengthAdjust="spacingAndGlyphs" stroke="#2a2a2a" stroke-width="0.22">100</text>
<line x1="416.6" y1="77.7" x2="418.2" y2="77.7" stroke="#1a1a1a" stroke-width="0.4"/>
<line x1="416.6" y1="75.71" x2="418.2" y2="75.71" stroke="#1a1a1a" stroke-width="0.4"/>
<line x1="416.6" y1="73.71" x2="418.2" y2="73.71" stroke="#1a1a1a" stroke-width="0.4"/>
<line x1="416.6" y1="71.72" x2="418.2" y2="71.72" stroke="#1a1a1a" stroke-width="0.4"/>
<line x1="416.6" y1="67.72" x2="418.2" y2="67.72" stroke="#1a1a1a" stroke-width="0.4"/>
<line x1="416.6" y1="65.73" x2="418.2" y2="65.73" stroke="#1a1a1a" stroke-width="0.4"/>
<line x1="416.6" y1="63.73" x2="418.2" y2="63.73" stroke="#1a1a1a" stroke-width="0.4"/>
<line x1="416.6" y1="61.74" x2="418.2" y2="61.74" stroke="#1a1a1a" stroke-width="0.4"/>
<line x1="416.6" y1="57.74" x2="418.2" y2="57.74" stroke="#1a1a1a" stroke-width="0.4"/>
<line x1="416.6" y1="55.75" x2="418.2" y2="55.75" stroke="#1a1a1a" stroke-width="0.4"/>
<line x1="416.6" y1="53.75" x2="418.2" y2="53.75" stroke="#1a1a1a" stroke-width="0.4"/>
<line x1="416.6" y1="51.76" x2="418.2" y2="51.76" stroke="#1a1a1a" stroke-width="0.4"/>
<line x1="416.6" y1="47.76" x2="418.2" y2="47.76" stroke="#1a1a1a" stroke-width="0.4"/>
<line x1="416.6" y1="45.77" x2="418.2" y2="45.77" stroke="#1a1a1a" stroke-width="0.4"/>
<line x1="416.6" y1="43.77" x2="418.2" y2="43.77" stroke="#1a1a1a" stroke-width="0.4"/>
<line x1="416.6" y1="41.78" x2="418.2" y2="41.78" stroke="#1a1a1a" stroke-width="0.4"/>
<line x1="416.6" y1="37.78" x2="418.2" y2="37.78" stroke="#1a1a1a" stroke-width="0.4"/>
<line x1="416.6" y1="35.79" x2="418.2" y2="35.79" stroke="#1a1a1a" stroke-width="0.4"/>
<line x1="416.6" y1="33.79" x2="418.2" y2="33.79" stroke="#1a1a1a" stroke-width="0.4"/>
<line x1="416.6" y1="31.8" x2="418.2" y2="31.8" stroke="#1a1a1a" stroke-width="0.4"/>
<line x1="419" y1="79.7" x2="419" y2="82.1" stroke="#1a1a1a" stroke-width="0.9"/>
<line x1="425.86" y1="79.7" x2="425.86" y2="81.2" stroke="#1a1a1a" stroke-width="0.45"/>
<line x1="429.88" y1="79.7" x2="429.88" y2="81.2" stroke="#1a1a1a" stroke-width="0.45"/>
<line x1="432.73" y1="79.7" x2="432.73" y2="81.2" stroke="#1a1a1a" stroke-width="0.45"/>
<line x1="434.94" y1="79.7" x2="434.94" y2="81.2" stroke="#1a1a1a" stroke-width="0.45"/>
<line x1="436.74" y1="79.7" x2="436.74" y2="81.2" stroke="#1a1a1a" stroke-width="0.45"/>
<line x1="438.27" y1="79.7" x2="438.27" y2="81.2" stroke="#1a1a1a" stroke-width="0.45"/>
<line x1="439.59" y1="79.7" x2="439.59" y2="81.2" stroke="#1a1a1a" stroke-width="0.45"/>
<line x1="440.76" y1="79.7" x2="440.76" y2="81.2" stroke="#1a1a1a" stroke-width="0.45"/>
<line x1="441.8" y1="79.7" x2="441.8" y2="82.1" stroke="#1a1a1a" stroke-width="0.9"/>
<line x1="448.66" y1="79.7" x2="448.66" y2="81.2" stroke="#1a1a1a" stroke-width="0.45"/>
<line x1="452.68" y1="79.7" x2="452.68" y2="81.2" stroke="#1a1a1a" stroke-width="0.45"/>
<line x1="455.53" y1="79.7" x2="455.53" y2="81.2" stroke="#1a1a1a" stroke-width="0.45"/>
<line x1="457.74" y1="79.7" x2="457.74" y2="81.2" stroke="#1a1a1a" stroke-width="0.45"/>
<line x1="459.54" y1="79.7" x2="459.54" y2="81.2" stroke="#1a1a1a" stroke-width="0.45"/>
<line x1="461.07" y1="79.7" x2="461.07" y2="81.2" stroke="#1a1a1a" stroke-width="0.45"/>
<line x1="462.39" y1="79.7" x2="462.39" y2="81.2" stroke="#1a1a1a" stroke-width="0.45"/>
<line x1="463.56" y1="79.7" x2="463.56" y2="81.2" stroke="#1a1a1a" stroke-width="0.45"/>
<line x1="464.6" y1="79.7" x2="464.6" y2="82.1" stroke="#1a1a1a" stroke-width="0.9"/>
<line x1="471.46" y1="79.7" x2="471.46" y2="81.2" stroke="#1a1a1a" stroke-width="0.45"/>
<line x1="475.48" y1="79.7" x2="475.48" y2="81.2" stroke="#1a1a1a" stroke-width="0.45"/>
<line x1="478.33" y1="79.7" x2="478.33" y2="81.2" stroke="#1a1a1a" stroke-width="0.45"/>
<line x1="480.54" y1="79.7" x2="480.54" y2="81.2" stroke="#1a1a1a" stroke-width="0.45"/>
<line x1="482.34" y1="79.7" x2="482.34" y2="81.2" stroke="#1a1a1a" stroke-width="0.45"/>
<line x1="483.87" y1="79.7" x2="483.87" y2="81.2" stroke="#1a1a1a" stroke-width="0.45"/>
<line x1="485.19" y1="79.7" x2="485.19" y2="81.2" stroke="#1a1a1a" stroke-width="0.45"/>
<line x1="486.36" y1="79.7" x2="486.36" y2="81.2" stroke="#1a1a1a" stroke-width="0.45"/>
<line x1="487.4" y1="79.7" x2="487.4" y2="82.1" stroke="#1a1a1a" stroke-width="0.9"/>
<line x1="494.26" y1="79.7" x2="494.26" y2="81.2" stroke="#1a1a1a" stroke-width="0.45"/>
<line x1="498.28" y1="79.7" x2="498.28" y2="81.2" stroke="#1a1a1a" stroke-width="0.45"/>
<line x1="501.13" y1="79.7" x2="501.13" y2="81.2" stroke="#1a1a1a" stroke-width="0.45"/>
<line x1="503.34" y1="79.7" x2="503.34" y2="81.2" stroke="#1a1a1a" stroke-width="0.45"/>
<line x1="505.14" y1="79.7" x2="505.14" y2="81.2" stroke="#1a1a1a" stroke-width="0.45"/>
<line x1="506.67" y1="79.7" x2="506.67" y2="81.2" stroke="#1a1a1a" stroke-width="0.45"/>
<line x1="507.99" y1="79.7" x2="507.99" y2="81.2" stroke="#1a1a1a" stroke-width="0.45"/>
<line x1="509.16" y1="79.7" x2="509.16" y2="81.2" stroke="#1a1a1a" stroke-width="0.45"/>
<line x1="510.2" y1="79.7" x2="510.2" y2="82.1" stroke="#1a1a1a" stroke-width="0.9"/>
<g transform="translate(424 92.5) rotate(-45)"><text x="0" y="0" font-size="7" text-anchor="end" fill="#2a2a2a" stroke="#2a2a2a" stroke-width="0.22">10<tspan font-size="5.18" dy="-2.94" dx="0.2">1</tspan></text></g>
<g transform="translate(446.8 92.5) rotate(-45)"><text x="0" y="0" font-size="7" text-anchor="end" fill="#2a2a2a" stroke="#2a2a2a" stroke-width="0.22">10<tspan font-size="5.18" dy="-2.94" dx="0.2">2</tspan></text></g>
<g transform="translate(469.6 92.5) rotate(-45)"><text x="0" y="0" font-size="7" text-anchor="end" fill="#2a2a2a" stroke="#2a2a2a" stroke-width="0.22">10<tspan font-size="5.18" dy="-2.94" dx="0.2">3</tspan></text></g>
<g transform="translate(492.4 92.5) rotate(-45)"><text x="0" y="0" font-size="7" text-anchor="end" fill="#2a2a2a" stroke="#2a2a2a" stroke-width="0.22">10<tspan font-size="5.18" dy="-2.94" dx="0.2">4</tspan></text></g>
<g transform="translate(515.2 92.5) rotate(-45)"><text x="0" y="0" font-size="7" text-anchor="end" fill="#2a2a2a" stroke="#2a2a2a" stroke-width="0.22">10<tspan font-size="5.18" dy="-2.94" dx="0.2">5</tspan></text></g>
<text x="455" y="24.1" font-size="8.6" font-weight="700" fill="#1a1a1a" textLength="18.7" lengthAdjust="spacingAndGlyphs" stroke="#1a1a1a" stroke-width="0.12">AML 7</text>
<line x1="44" y1="108.3" x2="500" y2="108.3" stroke="#222" stroke-width="1.1"/>
<path d="M498.6 105.1 L506.8 108.3 L498.6 111.6 L500.3 108.3 Z" fill="#111" stroke="#111" stroke-width="0.3" stroke-linejoin="round"/>
<text x="268.2" y="122.1" font-size="9" fill="#222" textLength="14" lengthAdjust="spacingAndGlyphs" stroke="#222" stroke-width="0.35">CD74</text>
<line x1="343" y1="127" x2="352" y2="127" stroke="#c4183c" stroke-width="1.1"/>
<circle cx="347.7" cy="127" r="2.2" fill="#c4183c"/>
<text x="356" y="129.6" font-size="7.2" textLength="98.2" lengthAdjust="spacingAndGlyphs" stroke="#2a2a2a" stroke-width="0.22">STRO−001 + 1uM SP7219</text>
<line x1="459.4" y1="127" x2="467.5" y2="127" stroke="#24527f" stroke-width="1.1"/>
<circle cx="463.3" cy="127" r="2.2" fill="#24527f"/>
<text x="472.3" y="129.6" font-size="7.2" textLength="39.7" lengthAdjust="spacingAndGlyphs" stroke="#2a2a2a" stroke-width="0.22">STRO−001</text>
<line x1="43.8" y1="147.5" x2="43.8" y2="207.6" stroke="#000" stroke-width="1.25"/>
<line x1="43.3" y1="207.1" x2="136.2" y2="207.1" stroke="#000" stroke-width="1.25"/>
<line x1="41" y1="207.1" x2="43.8" y2="207.1" stroke="#1a1a1a" stroke-width="0.9"/>
<text x="36.5" y="209.45" font-size="8.58" text-anchor="end" textLength="4.34" lengthAdjust="spacingAndGlyphs" stroke="#2a2a2a" stroke-width="0.22">0</text>
<line x1="41" y1="195.78" x2="43.8" y2="195.78" stroke="#1a1a1a" stroke-width="0.9"/>
<text x="36.5" y="198.13" font-size="8.58" text-anchor="end" textLength="8.68" lengthAdjust="spacingAndGlyphs" stroke="#2a2a2a" stroke-width="0.22">25</text>
<line x1="41" y1="184.46" x2="43.8" y2="184.46" stroke="#1a1a1a" stroke-width="0.9"/>
<text x="36.5" y="186.81" font-size="8.58" text-anchor="end" textLength="8.68" lengthAdjust="spacingAndGlyphs" stroke="#2a2a2a" stroke-width="0.22">50</text>
<line x1="41" y1="173.14" x2="43.8" y2="173.14" stroke="#1a1a1a" stroke-width="0.9"/>
<text x="36.5" y="175.49" font-size="8.58" text-anchor="end" textLength="8.68" lengthAdjust="spacingAndGlyphs" stroke="#2a2a2a" stroke-width="0.22">75</text>
<line x1="41" y1="161.82" x2="43.8" y2="161.82" stroke="#1a1a1a" stroke-width="0.9"/>
<text x="36.5" y="164.17" font-size="8.58" text-anchor="end" textLength="13.01" lengthAdjust="spacingAndGlyphs" stroke="#2a2a2a" stroke-width="0.22">100</text>
<line x1="41" y1="150.5" x2="43.8" y2="150.5" stroke="#1a1a1a" stroke-width="0.9"/>
<text x="36.5" y="152.85" font-size="8.58" text-anchor="end" textLength="13.01" lengthAdjust="spacingAndGlyphs" stroke="#2a2a2a" stroke-width="0.22">125</text>
<line x1="43.8" y1="207.1" x2="43.8" y2="209.7" stroke="#1a1a1a" stroke-width="0.9"/>
<g transform="translate(47.5 218.7) rotate(-45)"><text x="0" y="0" font-size="7.6" text-anchor="end" fill="#2a2a2a" stroke="#2a2a2a" stroke-width="0.22">0.1</text></g>
<line x1="66.7" y1="207.1" x2="66.7" y2="209.7" stroke="#1a1a1a" stroke-width="0.9"/>
<g transform="translate(70.4 218.7) rotate(-45)"><text x="0" y="0" font-size="7.6" text-anchor="end" fill="#2a2a2a" stroke="#2a2a2a" stroke-width="0.22">1</text></g>
<line x1="89.6" y1="207.1" x2="89.6" y2="209.7" stroke="#1a1a1a" stroke-width="0.9"/>
<g transform="translate(93.3 218.7) rotate(-45)"><text x="0" y="0" font-size="7.6" text-anchor="end" fill="#2a2a2a" stroke="#2a2a2a" stroke-width="0.22">10</text></g>
<line x1="112.5" y1="207.1" x2="112.5" y2="209.7" stroke="#1a1a1a" stroke-width="0.9"/>
<g transform="translate(116.2 218.7) rotate(-45)"><text x="0" y="0" font-size="7.6" text-anchor="end" fill="#2a2a2a" stroke="#2a2a2a" stroke-width="0.22">100</text></g>
<line x1="135.4" y1="207.1" x2="135.4" y2="209.7" stroke="#1a1a1a" stroke-width="0.9"/>
<g transform="translate(139.1 218.7) rotate(-45)"><text x="0" y="0" font-size="7.6" text-anchor="end" fill="#2a2a2a" stroke="#2a2a2a" stroke-width="0.22">1000</text></g>
<text x="80.2" y="144.5" font-size="8.6" font-weight="700" fill="#1a1a1a" textLength="18.7" lengthAdjust="spacingAndGlyphs" stroke="#1a1a1a" stroke-width="0.12">AML 4</text>
<path d="M43.8 161.82 L44.95 161.82 L46.09 161.82 L47.23 161.82 L48.38 161.82 L49.52 161.82 L50.67 161.82 L51.81 161.82 L52.96 161.82 L54.1 161.82 L55.25 161.82 L56.39 161.82 L57.54 161.82 L58.68 161.82 L59.83 161.82 L60.97 161.82 L62.12 161.82 L63.27 161.83 L64.41 161.83 L65.55 161.83 L66.7 161.83 L67.84 161.83 L68.99 161.83 L70.13 161.83 L71.28 161.83 L72.42 161.83 L73.57 161.84 L74.72 161.84 L75.86 161.84 L77 161.84 L78.15 161.84 L79.29 161.85 L80.44 161.85 L81.58 161.85 L82.73 161.86 L83.88 161.86 L85.02 161.87 L86.16 161.87 L87.31 161.88 L88.45 161.89 L89.6 161.9 L90.74 161.91 L91.89 161.92 L93.03 161.93 L94.18 161.94 L95.32 161.95 L96.47 161.97 L97.61 161.99 L98.76 162.01 L99.91 162.03 L101.05 162.06 L102.19 162.08 L103.34 162.11 L104.48 162.15 L105.63 162.19 L106.77 162.23 L107.92 162.28 L109.06 162.33 L110.21 162.39 L111.36 162.45 L112.5 162.52 L113.64 162.6 L114.79 162.68 L115.93 162.77 L117.08 162.87 L118.22 162.98 L119.37 163.1 L120.52 163.23 L121.66 163.37 L122.8 163.51 L123.95 163.67 L125.09 163.84 L126.24 164.01 L127.38 164.2 L128.53 164.39 L129.68 164.59 L130.82 164.8 L131.96 165.01 L133.11 165.23 L134.25 165.45 L135.4 165.67" stroke="#315e8a" stroke-width="1.2" fill="none" stroke-linejoin="round"/>
<line x1="43.8" y1="154.58" x2="43.8" y2="158.2" stroke="#c4183c" stroke-width="0.8"/>
<line x1="42.7" y1="154.58" x2="44.9" y2="154.58" stroke="#c4183c" stroke-width="0.8"/>
<line x1="42.7" y1="158.2" x2="44.9" y2="158.2" stroke="#c4183c" stroke-width="0.8"/>
<circle cx="43.8" cy="156.39" r="1.25" fill="#a8122e"/>
<line x1="66.7" y1="154.12" x2="66.7" y2="157.74" stroke="#c4183c" stroke-width="0.8"/>
<line x1="65.6" y1="154.12" x2="67.8" y2="154.12" stroke="#c4183c" stroke-width="0.8"/>
<line x1="65.6" y1="157.74" x2="67.8" y2="157.74" stroke="#c4183c" stroke-width="0.8"/>
<circle cx="66.7" cy="155.93" r="1.25" fill="#a8122e"/>
<line x1="112.5" y1="160.01" x2="112.5" y2="162.73" stroke="#c4183c" stroke-width="0.8"/>
<line x1="111.4" y1="160.01" x2="113.6" y2="160.01" stroke="#c4183c" stroke-width="0.8"/>
<line x1="111.4" y1="162.73" x2="113.6" y2="162.73" stroke="#c4183c" stroke-width="0.8"/>
<circle cx="112.5" cy="161.37" r="1.25" fill="#a8122e"/>
<line x1="135.4" y1="163.18" x2="135.4" y2="165.9" stroke="#c4183c" stroke-width="0.8"/>
<line x1="134.3" y1="163.18" x2="136.5" y2="163.18" stroke="#c4183c" stroke-width="0.8"/>
<line x1="134.3" y1="165.9" x2="136.5" y2="165.9" stroke="#c4183c" stroke-width="0.8"/>
<circle cx="135.4" cy="164.54" r="1.25" fill="#a8122e"/>
<line x1="43.8" y1="156.84" x2="43.8" y2="160.46" stroke="#24527f" stroke-width="0.8"/>
<line x1="42.7" y1="156.84" x2="44.9" y2="156.84" stroke="#24527f" stroke-width="0.8"/>
<line x1="42.7" y1="160.46" x2="44.9" y2="160.46" stroke="#24527f" stroke-width="0.8"/>
<circle cx="43.8" cy="158.65" r="1.25" fill="#1c3552"/>
<line x1="66.7" y1="156.39" x2="66.7" y2="160.01" stroke="#24527f" stroke-width="0.8"/>
<line x1="65.6" y1="156.39" x2="67.8" y2="156.39" stroke="#24527f" stroke-width="0.8"/>
<line x1="65.6" y1="160.01" x2="67.8" y2="160.01" stroke="#24527f" stroke-width="0.8"/>
<circle cx="66.7" cy="158.2" r="1.25" fill="#1c3552"/>
<line x1="89.6" y1="155.93" x2="89.6" y2="159.56" stroke="#24527f" stroke-width="0.8"/>
<line x1="88.5" y1="155.93" x2="90.7" y2="155.93" stroke="#24527f" stroke-width="0.8"/>
<line x1="88.5" y1="159.56" x2="90.7" y2="159.56" stroke="#24527f" stroke-width="0.8"/>
<circle cx="89.6" cy="157.74" r="1.25" fill="#1c3552"/>
<line x1="112.5" y1="161.37" x2="112.5" y2="164.08" stroke="#24527f" stroke-width="0.8"/>
<line x1="111.4" y1="161.37" x2="113.6" y2="161.37" stroke="#24527f" stroke-width="0.8"/>
<line x1="111.4" y1="164.08" x2="113.6" y2="164.08" stroke="#24527f" stroke-width="0.8"/>
<circle cx="112.5" cy="162.73" r="1.25" fill="#1c3552"/>
<line x1="135.4" y1="164.08" x2="135.4" y2="166.8" stroke="#24527f" stroke-width="0.8"/>
<line x1="134.3" y1="164.08" x2="136.5" y2="164.08" stroke="#24527f" stroke-width="0.8"/>
<line x1="134.3" y1="166.8" x2="136.5" y2="166.8" stroke="#24527f" stroke-width="0.8"/>
<circle cx="135.4" cy="165.44" r="1.25" fill="#1c3552"/>
<line x1="168.3" y1="147.5" x2="168.3" y2="207.6" stroke="#000" stroke-width="1.25"/>
<line x1="167.8" y1="207.1" x2="260.7" y2="207.1" stroke="#000" stroke-width="1.25"/>
<line x1="165.5" y1="207.1" x2="168.3" y2="207.1" stroke="#1a1a1a" stroke-width="0.9"/>
<text x="161" y="209.45" font-size="8.58" text-anchor="end" textLength="4.34" lengthAdjust="spacingAndGlyphs" stroke="#2a2a2a" stroke-width="0.22">0</text>
<line x1="165.5" y1="195.78" x2="168.3" y2="195.78" stroke="#1a1a1a" stroke-width="0.9"/>
<text x="161" y="198.13" font-size="8.58" text-anchor="end" textLength="8.68" lengthAdjust="spacingAndGlyphs" stroke="#2a2a2a" stroke-width="0.22">25</text>
<line x1="165.5" y1="184.46" x2="168.3" y2="184.46" stroke="#1a1a1a" stroke-width="0.9"/>
<text x="161" y="186.81" font-size="8.58" text-anchor="end" textLength="8.68" lengthAdjust="spacingAndGlyphs" stroke="#2a2a2a" stroke-width="0.22">50</text>
<line x1="165.5" y1="173.14" x2="168.3" y2="173.14" stroke="#1a1a1a" stroke-width="0.9"/>
<text x="161" y="175.49" font-size="8.58" text-anchor="end" textLength="8.68" lengthAdjust="spacingAndGlyphs" stroke="#2a2a2a" stroke-width="0.22">75</text>
<line x1="165.5" y1="161.82" x2="168.3" y2="161.82" stroke="#1a1a1a" stroke-width="0.9"/>
<text x="161" y="164.17" font-size="8.58" text-anchor="end" textLength="13.01" lengthAdjust="spacingAndGlyphs" stroke="#2a2a2a" stroke-width="0.22">100</text>
<line x1="165.5" y1="150.5" x2="168.3" y2="150.5" stroke="#1a1a1a" stroke-width="0.9"/>
<text x="161" y="152.85" font-size="8.58" text-anchor="end" textLength="13.01" lengthAdjust="spacingAndGlyphs" stroke="#2a2a2a" stroke-width="0.22">125</text>
<line x1="168.3" y1="207.1" x2="168.3" y2="209.7" stroke="#1a1a1a" stroke-width="0.9"/>
<g transform="translate(172 218.7) rotate(-45)"><text x="0" y="0" font-size="7.6" text-anchor="end" fill="#2a2a2a" stroke="#2a2a2a" stroke-width="0.22">0.1</text></g>
<line x1="191.2" y1="207.1" x2="191.2" y2="209.7" stroke="#1a1a1a" stroke-width="0.9"/>
<g transform="translate(194.9 218.7) rotate(-45)"><text x="0" y="0" font-size="7.6" text-anchor="end" fill="#2a2a2a" stroke="#2a2a2a" stroke-width="0.22">1</text></g>
<line x1="214.1" y1="207.1" x2="214.1" y2="209.7" stroke="#1a1a1a" stroke-width="0.9"/>
<g transform="translate(217.8 218.7) rotate(-45)"><text x="0" y="0" font-size="7.6" text-anchor="end" fill="#2a2a2a" stroke="#2a2a2a" stroke-width="0.22">10</text></g>
<line x1="237" y1="207.1" x2="237" y2="209.7" stroke="#1a1a1a" stroke-width="0.9"/>
<g transform="translate(240.7 218.7) rotate(-45)"><text x="0" y="0" font-size="7.6" text-anchor="end" fill="#2a2a2a" stroke="#2a2a2a" stroke-width="0.22">100</text></g>
<line x1="259.9" y1="207.1" x2="259.9" y2="209.7" stroke="#1a1a1a" stroke-width="0.9"/>
<g transform="translate(263.6 218.7) rotate(-45)"><text x="0" y="0" font-size="7.6" text-anchor="end" fill="#2a2a2a" stroke="#2a2a2a" stroke-width="0.22">1000</text></g>
<text x="204.6" y="144.5" font-size="8.6" font-weight="700" fill="#1a1a1a" textLength="18.7" lengthAdjust="spacingAndGlyphs" stroke="#1a1a1a" stroke-width="0.12">AML 5</text>
<path d="M168.3 162.96 L169.45 163.06 L170.59 163.16 L171.74 163.27 L172.88 163.38 L174.03 163.51 L175.17 163.64 L176.31 163.79 L177.46 163.95 L178.61 164.12 L179.75 164.3 L180.9 164.49 L182.04 164.7 L183.19 164.93 L184.33 165.17 L185.48 165.43 L186.62 165.7 L187.77 166 L188.91 166.31 L190.06 166.65 L191.2 167 L192.34 167.38 L193.49 167.79 L194.64 168.21 L195.78 168.67 L196.93 169.14 L198.07 169.65 L199.22 170.18 L200.36 170.73 L201.5 171.32 L202.65 171.93 L203.8 172.57 L204.94 173.24 L206.09 173.93 L207.23 174.64 L208.38 175.38 L209.52 176.15 L210.67 176.93 L211.81 177.73 L212.96 178.56 L214.1 179.39 L215.25 180.24 L216.39 181.1 L217.53 181.97 L218.68 182.84 L219.83 183.72 L220.97 184.59 L222.12 185.47 L223.26 186.33 L224.41 187.19 L225.55 188.03 L226.69 188.87 L227.84 189.68 L228.99 190.48 L230.13 191.25 L231.28 192.01 L232.42 192.74 L233.56 193.45 L234.71 194.13 L235.86 194.78 L237 195.41 L238.14 196.01 L239.29 196.59 L240.44 197.14 L241.58 197.66 L242.73 198.15 L243.87 198.62 L245.02 199.06 L246.16 199.48 L247.31 199.87 L248.45 200.24 L249.59 200.59 L250.74 200.92 L251.88 201.22 L253.03 201.51 L254.18 201.78 L255.32 202.03 L256.47 202.27 L257.61 202.49 L258.75 202.69 L259.9 202.88" stroke="#315e8a" stroke-width="1.2" fill="none" stroke-linejoin="round"/>
<path d="M168.3 161.86 L169.45 161.87 L170.59 161.87 L171.74 161.88 L172.88 161.88 L174.03 161.89 L175.17 161.89 L176.31 161.9 L177.46 161.91 L178.61 161.92 L179.75 161.93 L180.9 161.94 L182.04 161.95 L183.19 161.96 L184.33 161.97 L185.48 161.99 L186.62 162 L187.77 162.02 L188.91 162.04 L190.06 162.06 L191.2 162.08 L192.34 162.11 L193.49 162.14 L194.64 162.17 L195.78 162.2 L196.93 162.24 L198.07 162.28 L199.22 162.32 L200.36 162.37 L201.5 162.42 L202.65 162.48 L203.8 162.54 L204.94 162.61 L206.09 162.68 L207.23 162.76 L208.38 162.85 L209.52 162.95 L210.67 163.05 L211.81 163.17 L212.96 163.29 L214.1 163.43 L215.25 163.58 L216.39 163.74 L217.53 163.92 L218.68 164.11 L219.83 164.31 L220.97 164.54 L222.12 164.78 L223.26 165.05 L224.41 165.33 L225.55 165.64 L226.69 165.97 L227.84 166.33 L228.99 166.71 L230.13 167.12 L231.28 167.56 L232.42 168.04 L233.56 168.54 L234.71 169.07 L235.86 169.64 L237 170.24 L238.14 170.88 L239.29 171.55 L240.44 172.25 L241.58 172.99 L242.73 173.76 L243.87 174.56 L245.02 175.39 L246.16 176.24 L247.31 177.12 L248.45 178.03 L249.59 178.95 L250.74 179.88 L251.88 180.83 L253.03 181.78 L254.18 182.74 L255.32 183.7 L256.47 184.66 L257.61 185.6 L258.75 186.53 L259.9 187.45" stroke="#c81f40" stroke-width="1.2" fill="none" stroke-linejoin="round"/>
<line x1="191.2" y1="158.2" x2="191.2" y2="164.54" stroke="#c4183c" stroke-width="0.8"/>
<line x1="190.1" y1="158.2" x2="192.3" y2="158.2" stroke="#c4183c" stroke-width="0.8"/>
<line x1="190.1" y1="164.54" x2="192.3" y2="164.54" stroke="#c4183c" stroke-width="0.8"/>
<circle cx="191.2" cy="161.37" r="1.25" fill="#a8122e"/>
<line x1="214.1" y1="158.65" x2="214.1" y2="161.37" stroke="#c4183c" stroke-width="0.8"/>
<line x1="213" y1="158.65" x2="215.2" y2="158.65" stroke="#c4183c" stroke-width="0.8"/>
<line x1="213" y1="161.37" x2="215.2" y2="161.37" stroke="#c4183c" stroke-width="0.8"/>
<circle cx="214.1" cy="160.01" r="1.25" fill="#a8122e"/>
<line x1="237" y1="165.44" x2="237" y2="178.12" stroke="#c4183c" stroke-width="0.8"/>
<line x1="235.9" y1="165.44" x2="238.1" y2="165.44" stroke="#c4183c" stroke-width="0.8"/>
<line x1="235.9" y1="178.12" x2="238.1" y2="178.12" stroke="#c4183c" stroke-width="0.8"/>
<circle cx="237" cy="171.78" r="1.25" fill="#a8122e"/>
<line x1="259.9" y1="188.08" x2="259.9" y2="189.89" stroke="#c4183c" stroke-width="0.8"/>
<line x1="258.8" y1="188.08" x2="261" y2="188.08" stroke="#c4183c" stroke-width="0.8"/>
<line x1="258.8" y1="189.89" x2="261" y2="189.89" stroke="#c4183c" stroke-width="0.8"/>
<circle cx="259.9" cy="188.99" r="1.25" fill="#a8122e"/>
<line x1="191.2" y1="160.91" x2="191.2" y2="166.35" stroke="#24527f" stroke-width="0.8"/>
<line x1="190.1" y1="160.91" x2="192.3" y2="160.91" stroke="#24527f" stroke-width="0.8"/>
<line x1="190.1" y1="166.35" x2="192.3" y2="166.35" stroke="#24527f" stroke-width="0.8"/>
<circle cx="191.2" cy="163.63" r="1.25" fill="#1c3552"/>
<circle cx="214.1" cy="186.27" r="1.25" fill="#1c3552"/>
<circle cx="237" cy="194.87" r="1.25" fill="#1c3552"/>
<circle cx="259.9" cy="197.14" r="1.25" fill="#1c3552"/>
<text x="219.3" y="159.5" font-size="7.5" fill="#c52848" textLength="45" lengthAdjust="spacingAndGlyphs" stroke="#c52848" stroke-width="0.08">IC50: 556nM</text>
<text x="175.7" y="203" font-size="7.5" fill="#2d5a86" textLength="48.3" lengthAdjust="spacingAndGlyphs" stroke="#2d5a86" stroke-width="0.08">IC50: 17.4nM</text>
<line x1="294.5" y1="147.5" x2="294.5" y2="207.6" stroke="#000" stroke-width="1.25"/>
<line x1="294" y1="207.1" x2="386.9" y2="207.1" stroke="#000" stroke-width="1.25"/>
<line x1="291.7" y1="207.1" x2="294.5" y2="207.1" stroke="#1a1a1a" stroke-width="0.9"/>
<text x="287.2" y="209.45" font-size="8.58" text-anchor="end" textLength="4.34" lengthAdjust="spacingAndGlyphs" stroke="#2a2a2a" stroke-width="0.22">0</text>
<line x1="291.7" y1="195.78" x2="294.5" y2="195.78" stroke="#1a1a1a" stroke-width="0.9"/>
<text x="287.2" y="198.13" font-size="8.58" text-anchor="end" textLength="8.68" lengthAdjust="spacingAndGlyphs" stroke="#2a2a2a" stroke-width="0.22">25</text>
<line x1="291.7" y1="184.46" x2="294.5" y2="184.46" stroke="#1a1a1a" stroke-width="0.9"/>
<text x="287.2" y="186.81" font-size="8.58" text-anchor="end" textLength="8.68" lengthAdjust="spacingAndGlyphs" stroke="#2a2a2a" stroke-width="0.22">50</text>
<line x1="291.7" y1="173.14" x2="294.5" y2="173.14" stroke="#1a1a1a" stroke-width="0.9"/>
<text x="287.2" y="175.49" font-size="8.58" text-anchor="end" textLength="8.68" lengthAdjust="spacingAndGlyphs" stroke="#2a2a2a" stroke-width="0.22">75</text>
<line x1="291.7" y1="161.82" x2="294.5" y2="161.82" stroke="#1a1a1a" stroke-width="0.9"/>
<text x="287.2" y="164.17" font-size="8.58" text-anchor="end" textLength="13.01" lengthAdjust="spacingAndGlyphs" stroke="#2a2a2a" stroke-width="0.22">100</text>
<line x1="291.7" y1="150.5" x2="294.5" y2="150.5" stroke="#1a1a1a" stroke-width="0.9"/>
<text x="287.2" y="152.85" font-size="8.58" text-anchor="end" textLength="13.01" lengthAdjust="spacingAndGlyphs" stroke="#2a2a2a" stroke-width="0.22">125</text>
<line x1="294.5" y1="207.1" x2="294.5" y2="209.7" stroke="#1a1a1a" stroke-width="0.9"/>
<g transform="translate(298.2 218.7) rotate(-45)"><text x="0" y="0" font-size="7.6" text-anchor="end" fill="#2a2a2a" stroke="#2a2a2a" stroke-width="0.22">0.1</text></g>
<line x1="317.4" y1="207.1" x2="317.4" y2="209.7" stroke="#1a1a1a" stroke-width="0.9"/>
<g transform="translate(321.1 218.7) rotate(-45)"><text x="0" y="0" font-size="7.6" text-anchor="end" fill="#2a2a2a" stroke="#2a2a2a" stroke-width="0.22">1</text></g>
<line x1="340.3" y1="207.1" x2="340.3" y2="209.7" stroke="#1a1a1a" stroke-width="0.9"/>
<g transform="translate(344 218.7) rotate(-45)"><text x="0" y="0" font-size="7.6" text-anchor="end" fill="#2a2a2a" stroke="#2a2a2a" stroke-width="0.22">10</text></g>
<line x1="363.2" y1="207.1" x2="363.2" y2="209.7" stroke="#1a1a1a" stroke-width="0.9"/>
<g transform="translate(366.9 218.7) rotate(-45)"><text x="0" y="0" font-size="7.6" text-anchor="end" fill="#2a2a2a" stroke="#2a2a2a" stroke-width="0.22">100</text></g>
<line x1="386.1" y1="207.1" x2="386.1" y2="209.7" stroke="#1a1a1a" stroke-width="0.9"/>
<g transform="translate(389.8 218.7) rotate(-45)"><text x="0" y="0" font-size="7.6" text-anchor="end" fill="#2a2a2a" stroke="#2a2a2a" stroke-width="0.22">1000</text></g>
<text x="331.1" y="144.5" font-size="8.6" font-weight="700" fill="#1a1a1a" textLength="18.7" lengthAdjust="spacingAndGlyphs" stroke="#1a1a1a" stroke-width="0.12">AML 6</text>
<path d="M294.5 165.5 L295.64 165.7 L296.79 165.91 L297.94 166.12 L299.08 166.35 L300.23 166.59 L301.37 166.85 L302.51 167.11 L303.66 167.38 L304.81 167.67 L305.95 167.97 L307.1 168.28 L308.24 168.61 L309.38 168.95 L310.53 169.3 L311.68 169.67 L312.82 170.05 L313.96 170.44 L315.11 170.85 L316.25 171.27 L317.4 171.71 L318.55 172.16 L319.69 172.63 L320.83 173.11 L321.98 173.61 L323.12 174.11 L324.27 174.64 L325.42 175.17 L326.56 175.72 L327.7 176.28 L328.85 176.85 L330 177.44 L331.14 178.03 L332.28 178.64 L333.43 179.25 L334.57 179.87 L335.72 180.5 L336.87 181.13 L338.01 181.77 L339.15 182.42 L340.3 183.06 L341.44 183.71 L342.59 184.37 L343.74 185.02 L344.88 185.67 L346.02 186.32 L347.17 186.96 L348.31 187.6 L349.46 188.24 L350.61 188.87 L351.75 189.49 L352.89 190.11 L354.04 190.72 L355.19 191.31 L356.33 191.9 L357.48 192.47 L358.62 193.04 L359.76 193.59 L360.91 194.13 L362.06 194.66 L363.2 195.17 L364.34 195.67 L365.49 196.15 L366.63 196.62 L367.78 197.08 L368.93 197.52 L370.07 197.95 L371.22 198.36 L372.36 198.76 L373.5 199.15 L374.65 199.52 L375.79 199.87 L376.94 200.22 L378.08 200.54 L379.23 200.86 L380.38 201.16 L381.52 201.45 L382.66 201.73 L383.81 202 L384.95 202.25 L386.1 202.5" stroke="#315e8a" stroke-width="1.2" fill="none" stroke-linejoin="round"/>
<path d="M294.5 162.28 L295.64 162.28 L296.79 162.28 L297.94 162.29 L299.08 162.29 L300.23 162.29 L301.37 162.29 L302.51 162.29 L303.66 162.3 L304.81 162.3 L305.95 162.3 L307.1 162.31 L308.24 162.31 L309.38 162.31 L310.53 162.32 L311.68 162.32 L312.82 162.33 L313.96 162.34 L315.11 162.35 L316.25 162.36 L317.4 162.37 L318.55 162.38 L319.69 162.39 L320.83 162.4 L321.98 162.42 L323.12 162.44 L324.27 162.46 L325.42 162.48 L326.56 162.5 L327.7 162.53 L328.85 162.56 L330 162.6 L331.14 162.64 L332.28 162.68 L333.43 162.73 L334.57 162.79 L335.72 162.85 L336.87 162.92 L338.01 163 L339.15 163.08 L340.3 163.18 L341.44 163.29 L342.59 163.41 L343.74 163.54 L344.88 163.69 L346.02 163.86 L347.17 164.04 L348.31 164.25 L349.46 164.48 L350.61 164.73 L351.75 165.02 L352.89 165.33 L354.04 165.67 L355.19 166.05 L356.33 166.47 L357.48 166.93 L358.62 167.43 L359.76 167.98 L360.91 168.58 L362.06 169.23 L363.2 169.94 L364.34 170.69 L365.49 171.51 L366.63 172.38 L367.78 173.31 L368.93 174.3 L370.07 175.34 L371.22 176.43 L372.36 177.57 L373.5 178.75 L374.65 179.97 L375.79 181.21 L376.94 182.48 L378.08 183.76 L379.23 185.05 L380.38 186.34 L381.52 187.62 L382.66 188.88 L383.81 190.11 L384.95 191.3 L386.1 192.46" stroke="#c81f40" stroke-width="1.2" fill="none" stroke-linejoin="round"/>
<line x1="317.4" y1="155.93" x2="317.4" y2="160.46" stroke="#c4183c" stroke-width="0.8"/>
<line x1="316.3" y1="155.93" x2="318.5" y2="155.93" stroke="#c4183c" stroke-width="0.8"/>
<line x1="316.3" y1="160.46" x2="318.5" y2="160.46" stroke="#c4183c" stroke-width="0.8"/>
<circle cx="317.4" cy="158.2" r="1.25" fill="#a8122e"/>
<line x1="340.3" y1="157.74" x2="340.3" y2="162.27" stroke="#c4183c" stroke-width="0.8"/>
<line x1="339.2" y1="157.74" x2="341.4" y2="157.74" stroke="#c4183c" stroke-width="0.8"/>
<line x1="339.2" y1="162.27" x2="341.4" y2="162.27" stroke="#c4183c" stroke-width="0.8"/>
<circle cx="340.3" cy="160.01" r="1.25" fill="#a8122e"/>
<circle cx="363.2" cy="169.97" r="1.25" fill="#a8122e"/>
<circle cx="386.1" cy="192.16" r="1.25" fill="#a8122e"/>
<line x1="317.4" y1="165.44" x2="317.4" y2="169.06" stroke="#24527f" stroke-width="0.8"/>
<line x1="316.3" y1="165.44" x2="318.5" y2="165.44" stroke="#24527f" stroke-width="0.8"/>
<line x1="316.3" y1="169.06" x2="318.5" y2="169.06" stroke="#24527f" stroke-width="0.8"/>
<circle cx="317.4" cy="167.25" r="1.25" fill="#1c3552"/>
<circle cx="340.3" cy="190.35" r="1.25" fill="#1c3552"/>
<circle cx="363.2" cy="194.2" r="1.25" fill="#1c3552"/>
<circle cx="386.1" cy="196.23" r="1.25" fill="#1c3552"/>
<text x="344.3" y="162.2" font-size="7.5" fill="#c52848" textLength="48.7" lengthAdjust="spacingAndGlyphs" stroke="#c52848" stroke-width="0.08">IC50: 485nM</text>
<text x="299.3" y="202.2" font-size="7.5" fill="#2d5a86" textLength="50.2" lengthAdjust="spacingAndGlyphs" stroke="#2d5a86" stroke-width="0.08">IC50: 12.8nM</text>
<line x1="418.6" y1="147.5" x2="418.6" y2="207.6" stroke="#000" stroke-width="1.25"/>
<line x1="418.1" y1="207.1" x2="511" y2="207.1" stroke="#000" stroke-width="1.25"/>
<line x1="415.8" y1="207.1" x2="418.6" y2="207.1" stroke="#1a1a1a" stroke-width="0.9"/>
<text x="411.3" y="209.45" font-size="8.58" text-anchor="end" textLength="4.34" lengthAdjust="spacingAndGlyphs" stroke="#2a2a2a" stroke-width="0.22">0</text>
<line x1="415.8" y1="195.78" x2="418.6" y2="195.78" stroke="#1a1a1a" stroke-width="0.9"/>
<text x="411.3" y="198.13" font-size="8.58" text-anchor="end" textLength="8.68" lengthAdjust="spacingAndGlyphs" stroke="#2a2a2a" stroke-width="0.22">25</text>
<line x1="415.8" y1="184.46" x2="418.6" y2="184.46" stroke="#1a1a1a" stroke-width="0.9"/>
<text x="411.3" y="186.81" font-size="8.58" text-anchor="end" textLength="8.68" lengthAdjust="spacingAndGlyphs" stroke="#2a2a2a" stroke-width="0.22">50</text>
<line x1="415.8" y1="173.14" x2="418.6" y2="173.14" stroke="#1a1a1a" stroke-width="0.9"/>
<text x="411.3" y="175.49" font-size="8.58" text-anchor="end" textLength="8.68" lengthAdjust="spacingAndGlyphs" stroke="#2a2a2a" stroke-width="0.22">75</text>
<line x1="415.8" y1="161.82" x2="418.6" y2="161.82" stroke="#1a1a1a" stroke-width="0.9"/>
<text x="411.3" y="164.17" font-size="8.58" text-anchor="end" textLength="13.01" lengthAdjust="spacingAndGlyphs" stroke="#2a2a2a" stroke-width="0.22">100</text>
<line x1="415.8" y1="150.5" x2="418.6" y2="150.5" stroke="#1a1a1a" stroke-width="0.9"/>
<text x="411.3" y="152.85" font-size="8.58" text-anchor="end" textLength="13.01" lengthAdjust="spacingAndGlyphs" stroke="#2a2a2a" stroke-width="0.22">125</text>
<line x1="418.6" y1="207.1" x2="418.6" y2="209.7" stroke="#1a1a1a" stroke-width="0.9"/>
<g transform="translate(422.3 218.7) rotate(-45)"><text x="0" y="0" font-size="7.6" text-anchor="end" fill="#2a2a2a" stroke="#2a2a2a" stroke-width="0.22">0.1</text></g>
<line x1="441.5" y1="207.1" x2="441.5" y2="209.7" stroke="#1a1a1a" stroke-width="0.9"/>
<g transform="translate(445.2 218.7) rotate(-45)"><text x="0" y="0" font-size="7.6" text-anchor="end" fill="#2a2a2a" stroke="#2a2a2a" stroke-width="0.22">1</text></g>
<line x1="464.4" y1="207.1" x2="464.4" y2="209.7" stroke="#1a1a1a" stroke-width="0.9"/>
<g transform="translate(468.1 218.7) rotate(-45)"><text x="0" y="0" font-size="7.6" text-anchor="end" fill="#2a2a2a" stroke="#2a2a2a" stroke-width="0.22">10</text></g>
<line x1="487.3" y1="207.1" x2="487.3" y2="209.7" stroke="#1a1a1a" stroke-width="0.9"/>
<g transform="translate(491 218.7) rotate(-45)"><text x="0" y="0" font-size="7.6" text-anchor="end" fill="#2a2a2a" stroke="#2a2a2a" stroke-width="0.22">100</text></g>
<line x1="510.2" y1="207.1" x2="510.2" y2="209.7" stroke="#1a1a1a" stroke-width="0.9"/>
<g transform="translate(513.9 218.7) rotate(-45)"><text x="0" y="0" font-size="7.6" text-anchor="end" fill="#2a2a2a" stroke="#2a2a2a" stroke-width="0.22">1000</text></g>
<text x="455" y="144.5" font-size="8.6" font-weight="700" fill="#1a1a1a" textLength="18.7" lengthAdjust="spacingAndGlyphs" stroke="#1a1a1a" stroke-width="0.12">AML 7</text>
<path d="M418.6 166.24 L419.75 166.52 L420.89 166.82 L422.04 167.14 L423.18 167.47 L424.33 167.82 L425.47 168.19 L426.62 168.58 L427.76 168.99 L428.91 169.41 L430.05 169.86 L431.2 170.33 L432.34 170.81 L433.49 171.32 L434.63 171.85 L435.78 172.4 L436.92 172.97 L438.06 173.56 L439.21 174.17 L440.36 174.8 L441.5 175.45 L442.65 176.12 L443.79 176.8 L444.94 177.5 L446.08 178.22 L447.23 178.95 L448.37 179.69 L449.52 180.44 L450.66 181.2 L451.81 181.97 L452.95 182.75 L454.1 183.53 L455.24 184.31 L456.38 185.09 L457.53 185.87 L458.68 186.65 L459.82 187.42 L460.97 188.19 L462.11 188.94 L463.25 189.69 L464.4 190.42 L465.55 191.14 L466.69 191.85 L467.84 192.54 L468.98 193.21 L470.12 193.87 L471.27 194.51 L472.42 195.13 L473.56 195.72 L474.71 196.3 L475.85 196.86 L477 197.4 L478.14 197.91 L479.29 198.41 L480.43 198.88 L481.58 199.34 L482.72 199.77 L483.87 200.19 L485.01 200.58 L486.16 200.96 L487.3 201.32 L488.44 201.65 L489.59 201.98 L490.74 202.28 L491.88 202.57 L493.03 202.85 L494.17 203.1 L495.32 203.35 L496.46 203.58 L497.61 203.8 L498.75 204 L499.89 204.2 L501.04 204.38 L502.19 204.55 L503.33 204.71 L504.48 204.86 L505.62 205.01 L506.76 205.14 L507.91 205.26 L509.06 205.38 L510.2 205.49" stroke="#315e8a" stroke-width="1.2" fill="none" stroke-linejoin="round"/>
<path d="M418.6 162.73 L419.75 162.73 L420.89 162.73 L422.04 162.73 L423.18 162.73 L424.33 162.73 L425.47 162.73 L426.62 162.73 L427.76 162.73 L428.91 162.73 L430.05 162.73 L431.2 162.73 L432.34 162.73 L433.49 162.73 L434.63 162.73 L435.78 162.73 L436.92 162.73 L438.06 162.73 L439.21 162.73 L440.36 162.74 L441.5 162.74 L442.65 162.74 L443.79 162.74 L444.94 162.74 L446.08 162.75 L447.23 162.75 L448.37 162.76 L449.52 162.76 L450.66 162.77 L451.81 162.78 L452.95 162.78 L454.1 162.79 L455.24 162.81 L456.38 162.82 L457.53 162.84 L458.68 162.86 L459.82 162.88 L460.97 162.91 L462.11 162.94 L463.25 162.97 L464.4 163.02 L465.55 163.07 L466.69 163.13 L467.84 163.2 L468.98 163.28 L470.12 163.37 L471.27 163.48 L472.42 163.61 L473.56 163.76 L474.71 163.94 L475.85 164.15 L477 164.39 L478.14 164.66 L479.29 164.98 L480.43 165.36 L481.58 165.78 L482.72 166.28 L483.87 166.84 L485.01 167.48 L486.16 168.21 L487.3 169.04 L488.44 169.96 L489.59 170.99 L490.74 172.13 L491.88 173.38 L493.03 174.74 L494.17 176.2 L495.32 177.76 L496.46 179.4 L497.61 181.11 L498.75 182.86 L499.89 184.64 L501.04 186.43 L502.19 188.2 L503.33 189.92 L504.48 191.58 L505.62 193.17 L506.76 194.66 L507.91 196.05 L509.06 197.33 L510.2 198.51" stroke="#c81f40" stroke-width="1.2" fill="none" stroke-linejoin="round"/>
<circle cx="418.6" cy="162.27" r="1.25" fill="#a8122e"/>
<circle cx="441.5" cy="160.46" r="1.25" fill="#a8122e"/>
<line x1="464.4" y1="160.91" x2="464.4" y2="162.73" stroke="#c4183c" stroke-width="0.8"/>
<line x1="463.3" y1="160.91" x2="465.5" y2="160.91" stroke="#c4183c" stroke-width="0.8"/>
<line x1="463.3" y1="162.73" x2="465.5" y2="162.73" stroke="#c4183c" stroke-width="0.8"/>
<circle cx="464.4" cy="161.82" r="1.25" fill="#a8122e"/>
<line x1="487.3" y1="167.71" x2="487.3" y2="168.61" stroke="#c4183c" stroke-width="0.8"/>
<line x1="486.2" y1="167.71" x2="488.4" y2="167.71" stroke="#c4183c" stroke-width="0.8"/>
<line x1="486.2" y1="168.61" x2="488.4" y2="168.61" stroke="#c4183c" stroke-width="0.8"/>
<circle cx="487.3" cy="168.16" r="1.25" fill="#a8122e"/>
<circle cx="510.2" cy="198.04" r="1.25" fill="#a8122e"/>
<circle cx="418.6" cy="170.42" r="1.25" fill="#1c3552"/>
<circle cx="418.6" cy="177.67" r="1.25" fill="#1c3552"/>
<circle cx="441.5" cy="169.97" r="1.25" fill="#1c3552"/>
<line x1="464.4" y1="191.7" x2="464.4" y2="194.42" stroke="#24527f" stroke-width="0.8"/>
<line x1="463.3" y1="191.7" x2="465.5" y2="191.7" stroke="#24527f" stroke-width="0.8"/>
<line x1="463.3" y1="194.42" x2="465.5" y2="194.42" stroke="#24527f" stroke-width="0.8"/>
<circle cx="464.4" cy="193.06" r="1.25" fill="#1c3552"/>
<circle cx="487.3" cy="199.4" r="1.25" fill="#1c3552"/>
<circle cx="510.2" cy="202.12" r="1.25" fill="#1c3552"/>
<text x="472.4" y="158.7" font-size="7.5" fill="#c52848" textLength="48" lengthAdjust="spacingAndGlyphs" stroke="#c52848" stroke-width="0.08">IC50: 361nM</text>
<text x="422.5" y="202.2" font-size="7.5" fill="#2d5a86" textLength="49" lengthAdjust="spacingAndGlyphs" stroke="#2d5a86" stroke-width="0.08">IC50: 4.07nM</text>
<text transform="translate(7.7 179.2) rotate(-90)" font-size="7.4" text-anchor="middle" fill="#222" textLength="21" lengthAdjust="spacingAndGlyphs" stroke="#222" stroke-width="0.2">Viability</text>
<text transform="translate(18 179.2) rotate(-90)" font-size="7.4" text-anchor="middle" fill="#222" textLength="61.5" lengthAdjust="spacingAndGlyphs" stroke="#222" stroke-width="0.2">(percent of untreated)</text>
<line x1="44" y1="236.1" x2="500" y2="236.1" stroke="#222" stroke-width="1.1"/>
<path d="M498.6 232.9 L506.8 236.1 L498.6 239.4 L500.3 236.1 Z" fill="#111" stroke="#111" stroke-width="0.3" stroke-linejoin="round"/>
<text x="252.7" y="249.7" font-size="9.1" fill="#222" textLength="44.9" lengthAdjust="spacingAndGlyphs" stroke="#222" stroke-width="0.35">STRO–001 <tspan stroke-width="0.15">(nm)</tspan></text>
<line x1="62.3" y1="269.2" x2="62.3" y2="391" stroke="#222" stroke-width="1.1"/>
<path d="M59.2 388.4 L62.3 396.6 L65.4 388.4 L62.3 390.2 Z" fill="#111" stroke="#111" stroke-width="0.3" stroke-linejoin="round"/>
<text x="49.4" y="285.9" font-size="8.59" text-anchor="middle" textLength="13.52" lengthAdjust="spacingAndGlyphs" stroke="#2a2a2a" stroke-width="0.1">Day</text>
<text x="49.5" y="295.7" font-size="9.12" text-anchor="middle" textLength="4.23" lengthAdjust="spacingAndGlyphs" stroke="#2a2a2a" stroke-width="0.1">0</text>
<text x="49.4" y="307.3" font-size="8.59" text-anchor="middle" textLength="13.52" lengthAdjust="spacingAndGlyphs" stroke="#2a2a2a" stroke-width="0.1">Day</text>
<text x="49.5" y="317.1" font-size="9.12" text-anchor="middle" textLength="4.23" lengthAdjust="spacingAndGlyphs" stroke="#2a2a2a" stroke-width="0.1">7</text>
<text x="49.4" y="328.7" font-size="8.59" text-anchor="middle" textLength="13.52" lengthAdjust="spacingAndGlyphs" stroke="#2a2a2a" stroke-width="0.1">Day</text>
<text x="49.5" y="338.5" font-size="9.12" text-anchor="middle" textLength="8.45" lengthAdjust="spacingAndGlyphs" stroke="#2a2a2a" stroke-width="0.1">14</text>
<text x="49.4" y="350.1" font-size="8.59" text-anchor="middle" textLength="13.52" lengthAdjust="spacingAndGlyphs" stroke="#2a2a2a" stroke-width="0.1">Day</text>
<text x="49.5" y="359.9" font-size="9.12" text-anchor="middle" textLength="8.45" lengthAdjust="spacingAndGlyphs" stroke="#2a2a2a" stroke-width="0.1">21</text>
<text x="49.4" y="371.5" font-size="8.59" text-anchor="middle" textLength="13.52" lengthAdjust="spacingAndGlyphs" stroke="#2a2a2a" stroke-width="0.1">Day</text>
<text x="49.5" y="381.3" font-size="9.12" text-anchor="middle" textLength="8.45" lengthAdjust="spacingAndGlyphs" stroke="#2a2a2a" stroke-width="0.1">28</text>
<text x="67.4" y="312" font-size="8.1" fill="#2a2a2a" stroke="#2a2a2a" stroke-width="0.22" textLength="27" lengthAdjust="spacingAndGlyphs">1<tspan font-size="5.2" dy="-3.3">st</tspan><tspan dy="3.3"> dose</tspan></text>
<text x="67.4" y="333.65" font-size="8.1" fill="#2a2a2a" stroke="#2a2a2a" stroke-width="0.22" textLength="29.6" lengthAdjust="spacingAndGlyphs">2<tspan font-size="5.2" dy="-3.3">nd</tspan><tspan dy="3.3"> dose</tspan></text>
<text x="67.4" y="355.3" font-size="8.1" fill="#2a2a2a" stroke="#2a2a2a" stroke-width="0.22" textLength="29" lengthAdjust="spacingAndGlyphs">3<tspan font-size="5.2" dy="-3.3">rd</tspan><tspan dy="3.3"> dose</tspan></text>
<text x="67.4" y="376.95" font-size="8.1" fill="#2a2a2a" stroke="#2a2a2a" stroke-width="0.22" textLength="28.2" lengthAdjust="spacingAndGlyphs">4<tspan font-size="5.2" dy="-3.3">th</tspan><tspan dy="3.3"> dose</tspan></text>
<path d="M99.6 302.9 L105.2 302.9 L105.2 379.8 L99.6 379.8" stroke="#4a6f96" stroke-width="1" fill="none" stroke-linejoin="round"/>
<text x="123" y="334" font-size="8.5" text-anchor="middle" fill="#222" textLength="28.7" lengthAdjust="spacingAndGlyphs" stroke="#222" stroke-width="0.3">STRO–001</text>
<text x="123.3" y="345.4" font-size="8.5" text-anchor="middle" fill="#222" textLength="4.8" lengthAdjust="spacingAndGlyphs" stroke="#222" stroke-width="0.3">Tx</text>
<text x="123.4" y="356.2" font-size="8.5" text-anchor="middle" fill="#222" textLength="26" lengthAdjust="spacingAndGlyphs" stroke="#222" stroke-width="0.18">(3mg/kg)</text>
<defs><radialGradient id="mg" cx="0.45" cy="0.4" r="0.7"><stop offset="0" stop-color="#d2d2d2"/><stop offset="1" stop-color="#a9a9a9"/></radialGradient></defs>
<path d="M66.6 270.8 C69.2 269.2 70.8 266.6 72.9 266.2 C75.2 265.8 77.3 266.4 78.4 268.9" stroke="#444" stroke-width="0.8" fill="none"/>
<path d="M78.6 268.8 C83.6 268.8 85 273 84.6 277 C84.3 280.4 82.6 282 81.6 283 L81.7 285 C81 286.7 79.6 287.3 78.8 287.3 C78 287.3 76.6 286.7 75.9 285 L76 283 C75 282 73.2 280.4 72.9 277 C72.5 273 74 268.8 78.6 268.8 Z" fill="url(#mg)" stroke="#6a6a6a" stroke-width="0.5"/>
<circle cx="75.8" cy="281.4" r="1.7" fill="#e0e0e0" stroke="#777" stroke-width="0.4"/>
<circle cx="81.8" cy="281.4" r="1.7" fill="#e0e0e0" stroke="#777" stroke-width="0.4"/>
<circle cx="77.5" cy="283.8" r="0.45" fill="#222"/><circle cx="80.1" cy="283.8" r="0.45" fill="#222"/>
<path d="M77.3 286.8 L78.8 287.6 L80.3 286.8" stroke="#555" stroke-width="0.5" fill="none"/>
<line x1="79.4" y1="265.3" x2="84.2" y2="262.1" stroke="#c4183c" stroke-width="0.8"/>
<line x1="84" y1="262.2" x2="89.6" y2="258.4" stroke="#c4183c" stroke-width="1.9"/>
<line x1="90.9" y1="257.5" x2="96.3" y2="253.3" stroke="#707070" stroke-width="1.4"/>
<circle cx="212.6" cy="271.1" r="3.25" fill="#c0102e"/>
<text x="219.5" y="273.6" font-size="8.2" textLength="33.4" lengthAdjust="spacingAndGlyphs" stroke="#2a2a2a" stroke-width="0.22">Untreated</text>
<circle cx="212.6" cy="283" r="3.25" fill="#1d4a70"/>
<text x="219.5" y="285.6" font-size="8.2" textLength="39.7" lengthAdjust="spacingAndGlyphs" stroke="#2a2a2a" stroke-width="0.22">STRO−001</text>
<rect x="213" y="355.22" width="12.6" height="12.18" fill="#eda196"/>
<rect x="251.9" y="321.93" width="12.7" height="45.47" fill="#eda196"/>
<line x1="206.1" y1="284.4" x2="206.1" y2="367.9" stroke="#000" stroke-width="1.25"/>
<line x1="205.6" y1="367.4" x2="288" y2="367.4" stroke="#000" stroke-width="1.25"/>
<line x1="203.3" y1="367.4" x2="206.1" y2="367.4" stroke="#1a1a1a" stroke-width="0.9"/>
<text x="198.6" y="369.7" font-size="8.36" text-anchor="end" textLength="4.23" lengthAdjust="spacingAndGlyphs" stroke="#2a2a2a" stroke-width="0.22">0</text>
<line x1="203.3" y1="347.1" x2="206.1" y2="347.1" stroke="#1a1a1a" stroke-width="0.9"/>
<text x="198.6" y="349.4" font-size="8.36" text-anchor="end" textLength="8.45" lengthAdjust="spacingAndGlyphs" stroke="#2a2a2a" stroke-width="0.22">25</text>
<line x1="203.3" y1="326.8" x2="206.1" y2="326.8" stroke="#1a1a1a" stroke-width="0.9"/>
<text x="198.6" y="329.1" font-size="8.36" text-anchor="end" textLength="8.45" lengthAdjust="spacingAndGlyphs" stroke="#2a2a2a" stroke-width="0.22">50</text>
<line x1="203.3" y1="306.5" x2="206.1" y2="306.5" stroke="#1a1a1a" stroke-width="0.9"/>
<text x="198.6" y="308.8" font-size="8.36" text-anchor="end" textLength="8.45" lengthAdjust="spacingAndGlyphs" stroke="#2a2a2a" stroke-width="0.22">75</text>
<line x1="203.3" y1="286.2" x2="206.1" y2="286.2" stroke="#1a1a1a" stroke-width="0.9"/>
<text x="198.6" y="288.5" font-size="8.36" text-anchor="end" textLength="12.68" lengthAdjust="spacingAndGlyphs" stroke="#2a2a2a" stroke-width="0.22">100</text>
<line x1="227.3" y1="367.4" x2="227.3" y2="369.8" stroke="#1a1a1a" stroke-width="0.9"/>
<line x1="266.6" y1="367.4" x2="266.6" y2="369.8" stroke="#1a1a1a" stroke-width="0.9"/>
<text x="227.6" y="381.3" font-size="7.3" text-anchor="middle" stroke="#2a2a2a" stroke-width="0.22">4</text>
<text x="267.1" y="381.3" font-size="7.3" text-anchor="middle" stroke="#2a2a2a" stroke-width="0.22">13</text>
<text x="204.1" y="394.7" font-size="9" fill="#222" textLength="85.8" lengthAdjust="spacingAndGlyphs" stroke="#222" stroke-width="0.3">Weeks post leukemia injection</text>
<line x1="219.4" y1="360.09" x2="219.4" y2="350.19" stroke="#b0142f" stroke-width="0.9"/>
<line x1="217.2" y1="350.19" x2="221.6" y2="350.19" stroke="#b0142f" stroke-width="0.9"/>
<line x1="217.2" y1="360.09" x2="221.6" y2="360.09" stroke="#b0142f" stroke-width="0.9"/>
<line x1="258.4" y1="335.33" x2="258.4" y2="307.31" stroke="#b0142f" stroke-width="0.9"/>
<line x1="255" y1="307.31" x2="261.8" y2="307.31" stroke="#b0142f" stroke-width="0.9"/>
<line x1="255" y1="335.33" x2="261.8" y2="335.33" stroke="#b0142f" stroke-width="0.9"/>
<circle cx="219.4" cy="346.69" r="1.85" fill="#c4183c"/>
<circle cx="219.4" cy="357.01" r="1.85" fill="#c4183c"/>
<circle cx="219.4" cy="362.37" r="1.85" fill="#c4183c"/>
<circle cx="254.2" cy="305.85" r="1.85" fill="#c4183c"/>
<circle cx="263.3" cy="309.1" r="1.85" fill="#c4183c"/>
<circle cx="258.5" cy="349.62" r="1.85" fill="#c4183c"/>
<rect x="229.8" y="365.8" width="12.5" height="3.2" rx="1.6" fill="#24578a"/>
<circle cx="231.4" cy="367.4" r="1.6" fill="#1f4f7a"/>
<circle cx="233.26" cy="367.4" r="1.6" fill="#1f4f7a"/>
<circle cx="235.12" cy="367.4" r="1.6" fill="#1f4f7a"/>
<circle cx="236.98" cy="367.4" r="1.6" fill="#1f4f7a"/>
<circle cx="238.84" cy="367.4" r="1.6" fill="#1f4f7a"/>
<circle cx="240.7" cy="367.4" r="1.6" fill="#1f4f7a"/>
<rect x="269" y="365.8" width="12" height="3.2" rx="1.6" fill="#24578a"/>
<circle cx="270.6" cy="367.4" r="1.6" fill="#1f4f7a"/>
<circle cx="272.36" cy="367.4" r="1.6" fill="#1f4f7a"/>
<circle cx="274.12" cy="367.4" r="1.6" fill="#1f4f7a"/>
<circle cx="275.88" cy="367.4" r="1.6" fill="#1f4f7a"/>
<circle cx="277.64" cy="367.4" r="1.6" fill="#1f4f7a"/>
<circle cx="279.4" cy="367.4" r="1.6" fill="#1f4f7a"/>
<path d="M219.2 339.8 L219.2 334.6 L235.5 334.6 L235.5 360.5" stroke="#555" stroke-width="0.9" fill="none" stroke-linejoin="round"/>
<text x="227.3" y="333.6" font-size="7.5" text-anchor="middle" fill="#222" stroke="#222" stroke-width="0.22">*</text>
<path d="M258.5 299.3 L258.5 295.1 L274.4 295.1 L274.4 360.5" stroke="#555" stroke-width="0.9" fill="none" stroke-linejoin="round"/>
<text x="266.5" y="294.2" font-size="7.5" text-anchor="middle" fill="#222" textLength="5.6" lengthAdjust="spacingAndGlyphs" stroke="#222" stroke-width="0.22">**</text>
<text transform="translate(170 326.9) rotate(-90)" font-size="7.4" text-anchor="middle" fill="#222" textLength="65.4" lengthAdjust="spacingAndGlyphs" stroke="#222" stroke-width="0.2">% AML cells in the BM</text>
<text transform="translate(181.2 327.2) rotate(-90)" font-size="7.4" text-anchor="middle" fill="#222" textLength="61" lengthAdjust="spacingAndGlyphs" stroke="#222" stroke-width="0.2">(out of total live cells)</text>
<line x1="337.7" y1="272.4" x2="337.7" y2="358.4" stroke="#000" stroke-width="1.25"/>
<line x1="337.2" y1="357.9" x2="492.8" y2="357.9" stroke="#000" stroke-width="1.25"/>
<line x1="334.9" y1="357.9" x2="337.7" y2="357.9" stroke="#1a1a1a" stroke-width="0.9"/>
<text x="331.2" y="360.3" font-size="8.69" text-anchor="end" textLength="4.39" lengthAdjust="spacingAndGlyphs" stroke="#2a2a2a" stroke-width="0.22">0</text>
<line x1="334.9" y1="337.1" x2="337.7" y2="337.1" stroke="#1a1a1a" stroke-width="0.9"/>
<text x="331.2" y="339.5" font-size="8.69" text-anchor="end" textLength="8.79" lengthAdjust="spacingAndGlyphs" stroke="#2a2a2a" stroke-width="0.22">25</text>
<line x1="334.9" y1="316.3" x2="337.7" y2="316.3" stroke="#1a1a1a" stroke-width="0.9"/>
<text x="331.2" y="318.7" font-size="8.69" text-anchor="end" textLength="8.79" lengthAdjust="spacingAndGlyphs" stroke="#2a2a2a" stroke-width="0.22">50</text>
<line x1="334.9" y1="295.5" x2="337.7" y2="295.5" stroke="#1a1a1a" stroke-width="0.9"/>
<text x="331.2" y="297.9" font-size="8.69" text-anchor="end" textLength="8.79" lengthAdjust="spacingAndGlyphs" stroke="#2a2a2a" stroke-width="0.22">75</text>
<line x1="334.9" y1="274.7" x2="337.7" y2="274.7" stroke="#1a1a1a" stroke-width="0.9"/>
<text x="331.2" y="277.1" font-size="8.69" text-anchor="end" textLength="13.18" lengthAdjust="spacingAndGlyphs" stroke="#2a2a2a" stroke-width="0.22">100</text>
<line x1="337.7" y1="357.9" x2="337.7" y2="360.3" stroke="#1a1a1a" stroke-width="0.9"/>
<g transform="translate(341 369) rotate(-45)"><text x="0" y="0" font-size="8.0" text-anchor="end" fill="#2a2a2a" stroke="#2a2a2a" stroke-width="0.22">0</text></g>
<line x1="351.7" y1="357.9" x2="351.7" y2="360.3" stroke="#1a1a1a" stroke-width="0.9"/>
<g transform="translate(355 369) rotate(-45)"><text x="0" y="0" font-size="8.0" text-anchor="end" fill="#2a2a2a" stroke="#2a2a2a" stroke-width="0.22">28</text></g>
<line x1="365.7" y1="357.9" x2="365.7" y2="360.3" stroke="#1a1a1a" stroke-width="0.9"/>
<g transform="translate(369 369) rotate(-45)"><text x="0" y="0" font-size="8.0" text-anchor="end" fill="#2a2a2a" stroke="#2a2a2a" stroke-width="0.22">56</text></g>
<line x1="379.7" y1="357.9" x2="379.7" y2="360.3" stroke="#1a1a1a" stroke-width="0.9"/>
<g transform="translate(383 369) rotate(-45)"><text x="0" y="0" font-size="8.0" text-anchor="end" fill="#2a2a2a" stroke="#2a2a2a" stroke-width="0.22">84</text></g>
<line x1="393.7" y1="357.9" x2="393.7" y2="360.3" stroke="#1a1a1a" stroke-width="0.9"/>
<g transform="translate(397 369) rotate(-45)"><text x="0" y="0" font-size="8.0" text-anchor="end" fill="#2a2a2a" stroke="#2a2a2a" stroke-width="0.22">112</text></g>
<line x1="407.7" y1="357.9" x2="407.7" y2="360.3" stroke="#1a1a1a" stroke-width="0.9"/>
<g transform="translate(411 369) rotate(-45)"><text x="0" y="0" font-size="8.0" text-anchor="end" fill="#2a2a2a" stroke="#2a2a2a" stroke-width="0.22">140</text></g>
<line x1="421.7" y1="357.9" x2="421.7" y2="360.3" stroke="#1a1a1a" stroke-width="0.9"/>
<g transform="translate(425 369) rotate(-45)"><text x="0" y="0" font-size="8.0" text-anchor="end" fill="#2a2a2a" stroke="#2a2a2a" stroke-width="0.22">168</text></g>
<line x1="435.7" y1="357.9" x2="435.7" y2="360.3" stroke="#1a1a1a" stroke-width="0.9"/>
<g transform="translate(439 369) rotate(-45)"><text x="0" y="0" font-size="8.0" text-anchor="end" fill="#2a2a2a" stroke="#2a2a2a" stroke-width="0.22">196</text></g>
<line x1="449.7" y1="357.9" x2="449.7" y2="360.3" stroke="#1a1a1a" stroke-width="0.9"/>
<g transform="translate(453 369) rotate(-45)"><text x="0" y="0" font-size="8.0" text-anchor="end" fill="#2a2a2a" stroke="#2a2a2a" stroke-width="0.22">224</text></g>
<line x1="463.7" y1="357.9" x2="463.7" y2="360.3" stroke="#1a1a1a" stroke-width="0.9"/>
<g transform="translate(467 369) rotate(-45)"><text x="0" y="0" font-size="8.0" text-anchor="end" fill="#2a2a2a" stroke="#2a2a2a" stroke-width="0.22">252</text></g>
<line x1="477.7" y1="357.9" x2="477.7" y2="360.3" stroke="#1a1a1a" stroke-width="0.9"/>
<g transform="translate(481 369) rotate(-45)"><text x="0" y="0" font-size="8.0" text-anchor="end" fill="#2a2a2a" stroke="#2a2a2a" stroke-width="0.22">280</text></g>
<line x1="491.7" y1="357.9" x2="491.7" y2="360.3" stroke="#1a1a1a" stroke-width="0.9"/>
<g transform="translate(495 369) rotate(-45)"><text x="0" y="0" font-size="8.0" text-anchor="end" fill="#2a2a2a" stroke="#2a2a2a" stroke-width="0.22">308</text></g>
<path d="M337.7 274.7 L493.2 274.7" stroke="#3d6a99" stroke-width="1" fill="none" stroke-linejoin="round"/>
<line x1="492.95" y1="272.6" x2="492.95" y2="274.7" stroke="#3d6a99" stroke-width="0.8"/>
<path d="M337.7 274.7 L383.2 274.7 L383.2 331.28 L425.8 331.28 L425.8 357.9" stroke="#c4204a" stroke-width="1" fill="none" stroke-linejoin="round"/>
<line x1="337.7" y1="274.7" x2="383.2" y2="274.7" stroke="#6a2848" stroke-width="1.3"/>
<text x="376" y="395" font-size="9" fill="#222" textLength="80.3" lengthAdjust="spacingAndGlyphs" stroke="#222" stroke-width="0.3">Days post leukemia injection</text>
<text x="451.4" y="286.9" font-size="8.3" textLength="54.6" lengthAdjust="spacingAndGlyphs" stroke="#2a2a2a" stroke-width="0.22">Median Survival</text>
<text x="468.3" y="296.9" font-size="8.3" textLength="22.1" lengthAdjust="spacingAndGlyphs" stroke="#2a2a2a" stroke-width="0.22">(Days)</text>
<line x1="400.3" y1="308.2" x2="410.6" y2="308.2" stroke="#c4204a" stroke-width="1"/>
<line x1="405.4" y1="307.2" x2="405.4" y2="309.2" stroke="#c4204a" stroke-width="0.6"/>
<text x="413.75" y="310.6" font-size="8.3" textLength="34.2" lengthAdjust="spacingAndGlyphs" stroke="#2a2a2a" stroke-width="0.22">Untreated</text>
<text x="461.8" y="310.6" font-size="8.3" textLength="35.4" lengthAdjust="spacingAndGlyphs" stroke="#2a2a2a" stroke-width="0.22">Undefined</text>
<line x1="400.3" y1="321.4" x2="410.6" y2="321.4" stroke="#3d6a99" stroke-width="1"/>
<line x1="405.4" y1="320.4" x2="405.4" y2="322.4" stroke="#3d6a99" stroke-width="0.6"/>
<text x="413.75" y="323.8" font-size="8.3" textLength="40.1" lengthAdjust="spacingAndGlyphs" stroke="#2a2a2a" stroke-width="0.22">STRO−001</text>
<text x="474.8" y="323.8" font-size="8.3" textLength="7.9" lengthAdjust="spacingAndGlyphs" stroke="#2a2a2a" stroke-width="0.22">91</text>
<line x1="501.3" y1="303.4" x2="501.3" y2="326.3" stroke="#222" stroke-width="1"/>
<text x="507.6" y="317.6" font-size="7.5" text-anchor="middle" fill="#222" stroke="#222" stroke-width="0.22">*</text>
</svg></body></html>
